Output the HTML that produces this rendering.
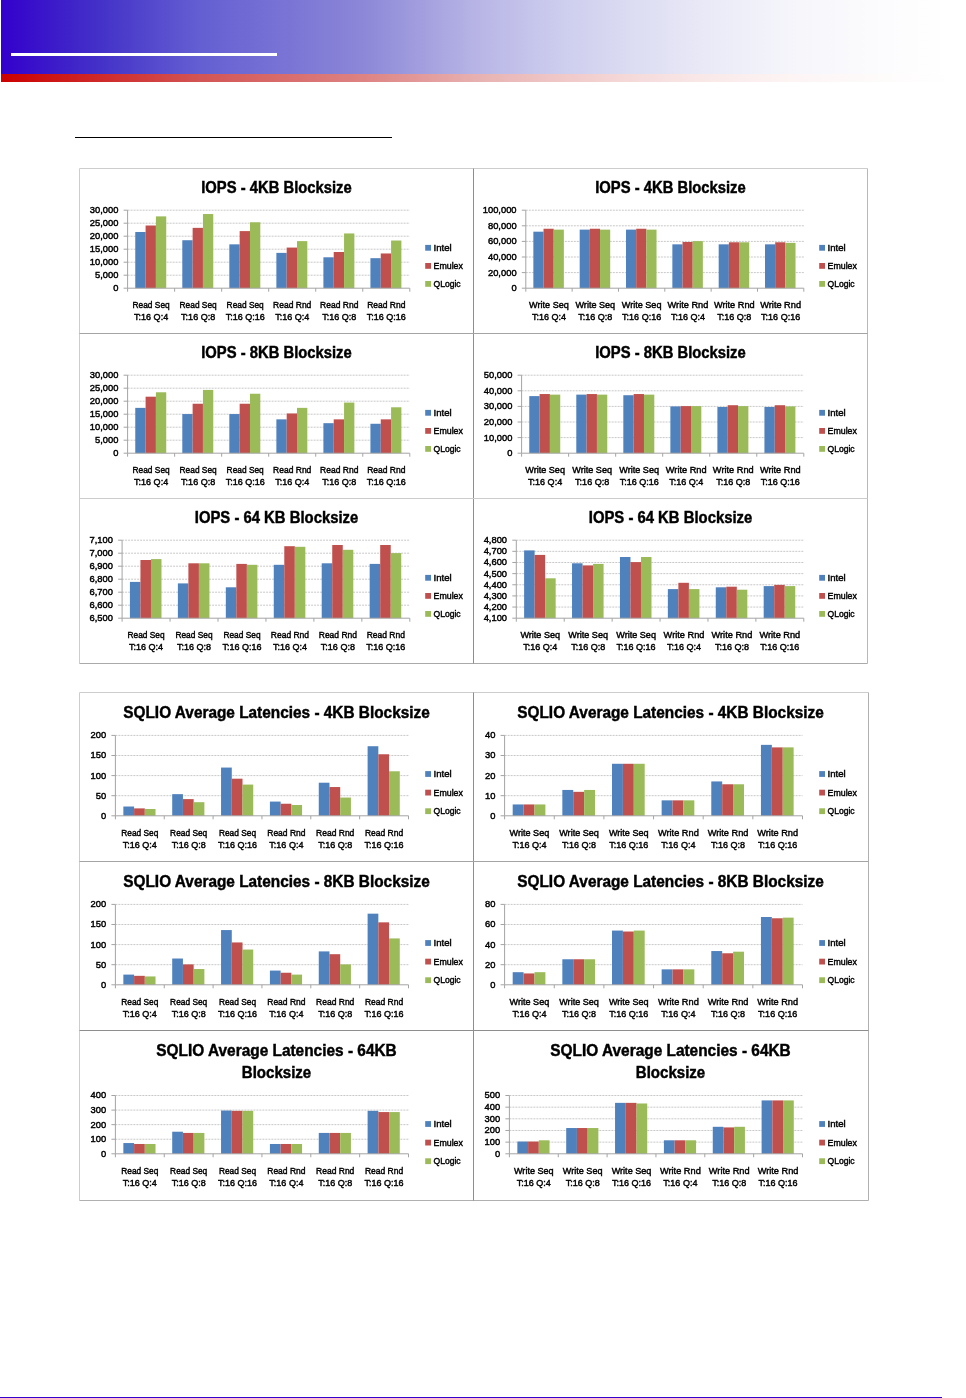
<!DOCTYPE html>
<html><head><meta charset="utf-8"><title>SQLIO results</title>
<style>
html,body{margin:0;padding:0;background:#fff;}
body{width:966px;height:1398px;position:relative;overflow:hidden;font-family:"Liberation Sans",sans-serif;}
svg{position:absolute;left:0;top:0;will-change:transform;}
svg text{font-family:"Liberation Sans",sans-serif;stroke:#000;stroke-width:0.45px;}
</style></head><body>
<svg width="966" height="1398" viewBox="0 0 966 1398">
<defs>
<linearGradient id="hb" x1="0" y1="0" x2="1" y2="0">
<stop offset="0" stop-color="rgb(51,0,204)"/>
<stop offset="0.105" stop-color="rgb(68,50,200)"/>
<stop offset="0.21" stop-color="rgb(100,95,210)"/>
<stop offset="0.38" stop-color="rgb(140,135,215)"/>
<stop offset="0.505" stop-color="rgb(185,182,230)"/>
<stop offset="0.59" stop-color="rgb(205,205,238)"/>
<stop offset="0.675" stop-color="rgb(222,222,243)"/>
<stop offset="0.76" stop-color="rgb(236,236,248)"/>
<stop offset="0.84" stop-color="rgb(246,246,251)"/>
<stop offset="0.93" stop-color="rgb(252,252,254)"/>
<stop offset="1" stop-color="#ffffff"/>
</linearGradient>
<linearGradient id="hr" x1="0" y1="0" x2="1" y2="0">
<stop offset="0" stop-color="rgb(204,0,0)"/>
<stop offset="0.105" stop-color="rgb(207,42,42)"/>
<stop offset="0.21" stop-color="rgb(211,85,85)"/>
<stop offset="0.38" stop-color="rgb(222,130,130)"/>
<stop offset="0.505" stop-color="rgb(232,178,178)"/>
<stop offset="0.59" stop-color="rgb(240,200,200)"/>
<stop offset="0.675" stop-color="rgb(246,220,220)"/>
<stop offset="0.76" stop-color="rgb(250,235,235)"/>
<stop offset="0.84" stop-color="rgb(253,245,245)"/>
<stop offset="0.93" stop-color="rgb(254,251,251)"/>
<stop offset="1" stop-color="rgb(255,255,255)"/>
</linearGradient>
</defs>
<rect x="1" y="0" width="950" height="74" fill="url(#hb)"/>
<rect x="1" y="74" width="950" height="8" fill="url(#hr)"/>
<rect x="11" y="53" width="266" height="3" fill="#fff"/>
<rect x="75" y="137" width="317" height="1" fill="#000"/>
<rect x="0" y="1397" width="942" height="1" fill="#3300cc"/>
<g stroke-width="1">
<line x1="79.5" y1="168.5" x2="867.5" y2="168.5" stroke="#cdcdcd"/>
<line x1="79.5" y1="168.5" x2="79.5" y2="663.5" stroke="#cdcdcd"/>
<line x1="867.5" y1="168.5" x2="867.5" y2="663.5" stroke="#b8b8b8"/>
<line x1="79.5" y1="663.5" x2="867.5" y2="663.5" stroke="#aaaaaa"/>
<line x1="473.5" y1="168.5" x2="473.5" y2="663.5" stroke="#8e8e8e"/>
<line x1="79.5" y1="333.5" x2="867.5" y2="333.5" stroke="#a4a4a4"/>
<line x1="79.5" y1="498.5" x2="867.5" y2="498.5" stroke="#cccccc"/>
<line x1="79.5" y1="692.5" x2="868.5" y2="692.5" stroke="#cdcdcd"/>
<line x1="79.5" y1="692.5" x2="79.5" y2="1200.5" stroke="#cdcdcd"/>
<line x1="868.5" y1="692.5" x2="868.5" y2="1200.5" stroke="#b0b0b0"/>
<line x1="79.5" y1="1200.5" x2="868.5" y2="1200.5" stroke="#b0b0b0"/>
<line x1="473.5" y1="692.5" x2="473.5" y2="1200.5" stroke="#8e8e8e"/>
<line x1="79.5" y1="861.5" x2="868.5" y2="861.5" stroke="#a4a4a4"/>
<line x1="79.5" y1="1030.5" x2="868.5" y2="1030.5" stroke="#8e8e8e"/>
</g>
<line x1="123.60" y1="288.20" x2="127.60" y2="288.20" stroke="#a4a4a4" stroke-width="1"/>
<text x="113.18" y="291.10" font-size="9.6" textLength="5.22" lengthAdjust="spacingAndGlyphs">0</text>
<line x1="127.60" y1="275.20" x2="409.80" y2="275.20" stroke="#c8c8c8" stroke-width="1" stroke-dasharray="2 1"/>
<line x1="123.60" y1="275.20" x2="127.60" y2="275.20" stroke="#a4a4a4" stroke-width="1"/>
<text x="94.95" y="278.10" font-size="9.6" textLength="23.45" lengthAdjust="spacingAndGlyphs">5,000</text>
<line x1="127.60" y1="262.20" x2="409.80" y2="262.20" stroke="#c8c8c8" stroke-width="1" stroke-dasharray="2 1"/>
<line x1="123.60" y1="262.20" x2="127.60" y2="262.20" stroke="#a4a4a4" stroke-width="1"/>
<text x="89.73" y="265.10" font-size="9.6" textLength="28.67" lengthAdjust="spacingAndGlyphs">10,000</text>
<line x1="127.60" y1="249.20" x2="409.80" y2="249.20" stroke="#c8c8c8" stroke-width="1" stroke-dasharray="2 1"/>
<line x1="123.60" y1="249.20" x2="127.60" y2="249.20" stroke="#a4a4a4" stroke-width="1"/>
<text x="89.73" y="252.10" font-size="9.6" textLength="28.67" lengthAdjust="spacingAndGlyphs">15,000</text>
<line x1="127.60" y1="236.20" x2="409.80" y2="236.20" stroke="#c8c8c8" stroke-width="1" stroke-dasharray="2 1"/>
<line x1="123.60" y1="236.20" x2="127.60" y2="236.20" stroke="#a4a4a4" stroke-width="1"/>
<text x="89.73" y="239.10" font-size="9.6" textLength="28.67" lengthAdjust="spacingAndGlyphs">20,000</text>
<line x1="127.60" y1="223.20" x2="409.80" y2="223.20" stroke="#c8c8c8" stroke-width="1" stroke-dasharray="2 1"/>
<line x1="123.60" y1="223.20" x2="127.60" y2="223.20" stroke="#a4a4a4" stroke-width="1"/>
<text x="89.73" y="226.10" font-size="9.6" textLength="28.67" lengthAdjust="spacingAndGlyphs">25,000</text>
<line x1="127.60" y1="210.20" x2="409.80" y2="210.20" stroke="#c8c8c8" stroke-width="1" stroke-dasharray="2 1"/>
<line x1="123.60" y1="210.20" x2="127.60" y2="210.20" stroke="#a4a4a4" stroke-width="1"/>
<text x="89.73" y="213.10" font-size="9.6" textLength="28.67" lengthAdjust="spacingAndGlyphs">30,000</text>
<rect x="135.27" y="231.98" width="10.32" height="56.22" fill="#4f81bd"/>
<rect x="145.59" y="225.51" width="10.32" height="62.69" fill="#c0504d"/>
<rect x="155.91" y="216.38" width="10.32" height="71.82" fill="#9bbb59"/>
<rect x="182.30" y="240.22" width="10.32" height="47.98" fill="#4f81bd"/>
<rect x="192.62" y="227.86" width="10.32" height="60.34" fill="#c0504d"/>
<rect x="202.95" y="214.03" width="10.32" height="74.17" fill="#9bbb59"/>
<rect x="229.33" y="244.34" width="10.32" height="43.86" fill="#4f81bd"/>
<rect x="239.66" y="231.10" width="10.32" height="57.10" fill="#c0504d"/>
<rect x="249.98" y="222.27" width="10.32" height="65.93" fill="#9bbb59"/>
<rect x="276.37" y="252.88" width="10.32" height="35.32" fill="#4f81bd"/>
<rect x="286.69" y="247.58" width="10.32" height="40.62" fill="#c0504d"/>
<rect x="297.01" y="241.11" width="10.32" height="47.09" fill="#9bbb59"/>
<rect x="323.40" y="257.29" width="10.32" height="30.91" fill="#4f81bd"/>
<rect x="333.72" y="252.00" width="10.32" height="36.20" fill="#c0504d"/>
<rect x="344.05" y="233.45" width="10.32" height="54.75" fill="#9bbb59"/>
<rect x="370.43" y="258.18" width="10.32" height="30.02" fill="#4f81bd"/>
<rect x="380.76" y="253.47" width="10.32" height="34.73" fill="#c0504d"/>
<rect x="391.08" y="240.52" width="10.32" height="47.68" fill="#9bbb59"/>
<line x1="127.60" y1="210.20" x2="127.60" y2="288.20" stroke="#a4a4a4" stroke-width="1"/>
<line x1="127.60" y1="288.20" x2="409.80" y2="288.20" stroke="#a4a4a4" stroke-width="1"/>
<line x1="127.60" y1="288.20" x2="127.60" y2="291.70" stroke="#a4a4a4" stroke-width="1"/>
<line x1="174.63" y1="288.20" x2="174.63" y2="291.70" stroke="#a4a4a4" stroke-width="1"/>
<line x1="221.67" y1="288.20" x2="221.67" y2="291.70" stroke="#a4a4a4" stroke-width="1"/>
<line x1="268.70" y1="288.20" x2="268.70" y2="291.70" stroke="#a4a4a4" stroke-width="1"/>
<line x1="315.73" y1="288.20" x2="315.73" y2="291.70" stroke="#a4a4a4" stroke-width="1"/>
<line x1="362.77" y1="288.20" x2="362.77" y2="291.70" stroke="#a4a4a4" stroke-width="1"/>
<line x1="409.80" y1="288.20" x2="409.80" y2="291.70" stroke="#a4a4a4" stroke-width="1"/>
<text x="132.54" y="307.70" font-size="9.6" textLength="37.15" lengthAdjust="spacingAndGlyphs">Read Seq</text>
<text x="134.07" y="319.70" font-size="9.6" textLength="34.09" lengthAdjust="spacingAndGlyphs">T:16 Q:4</text>
<text x="179.57" y="307.70" font-size="9.6" textLength="37.15" lengthAdjust="spacingAndGlyphs">Read Seq</text>
<text x="181.11" y="319.70" font-size="9.6" textLength="34.09" lengthAdjust="spacingAndGlyphs">T:16 Q:8</text>
<text x="226.61" y="307.70" font-size="9.6" textLength="37.15" lengthAdjust="spacingAndGlyphs">Read Seq</text>
<text x="225.63" y="319.70" font-size="9.6" textLength="39.11" lengthAdjust="spacingAndGlyphs">T:16 Q:16</text>
<text x="273.09" y="307.70" font-size="9.6" textLength="38.25" lengthAdjust="spacingAndGlyphs">Read Rnd</text>
<text x="275.17" y="319.70" font-size="9.6" textLength="34.09" lengthAdjust="spacingAndGlyphs">T:16 Q:4</text>
<text x="320.12" y="307.70" font-size="9.6" textLength="38.25" lengthAdjust="spacingAndGlyphs">Read Rnd</text>
<text x="322.21" y="319.70" font-size="9.6" textLength="34.09" lengthAdjust="spacingAndGlyphs">T:16 Q:8</text>
<text x="367.16" y="307.70" font-size="9.6" textLength="38.25" lengthAdjust="spacingAndGlyphs">Read Rnd</text>
<text x="366.73" y="319.70" font-size="9.6" textLength="39.11" lengthAdjust="spacingAndGlyphs">T:16 Q:16</text>
<text x="201.25" y="192.90" font-size="16.9" font-weight="bold" textLength="150.50" lengthAdjust="spacingAndGlyphs">IOPS - 4KB Blocksize</text>
<rect x="425.20" y="244.90" width="5.8" height="5.8" fill="#4f81bd"/>
<text x="433.50" y="251.00" font-size="9.6" textLength="18.21" lengthAdjust="spacingAndGlyphs">Intel</text>
<rect x="425.20" y="263.00" width="5.8" height="5.8" fill="#c0504d"/>
<text x="433.50" y="269.10" font-size="9.6" textLength="29.42" lengthAdjust="spacingAndGlyphs">Emulex</text>
<rect x="425.20" y="281.00" width="5.8" height="5.8" fill="#9bbb59"/>
<text x="433.50" y="287.10" font-size="9.6" textLength="27.16" lengthAdjust="spacingAndGlyphs">QLogic</text>
<line x1="521.80" y1="288.20" x2="525.80" y2="288.20" stroke="#a4a4a4" stroke-width="1"/>
<text x="511.38" y="291.10" font-size="9.6" textLength="5.22" lengthAdjust="spacingAndGlyphs">0</text>
<line x1="525.80" y1="272.60" x2="803.80" y2="272.60" stroke="#c8c8c8" stroke-width="1" stroke-dasharray="2 1"/>
<line x1="521.80" y1="272.60" x2="525.80" y2="272.60" stroke="#a4a4a4" stroke-width="1"/>
<text x="487.93" y="275.50" font-size="9.6" textLength="28.67" lengthAdjust="spacingAndGlyphs">20,000</text>
<line x1="525.80" y1="257.00" x2="803.80" y2="257.00" stroke="#c8c8c8" stroke-width="1" stroke-dasharray="2 1"/>
<line x1="521.80" y1="257.00" x2="525.80" y2="257.00" stroke="#a4a4a4" stroke-width="1"/>
<text x="487.93" y="259.90" font-size="9.6" textLength="28.67" lengthAdjust="spacingAndGlyphs">40,000</text>
<line x1="525.80" y1="241.40" x2="803.80" y2="241.40" stroke="#c8c8c8" stroke-width="1" stroke-dasharray="2 1"/>
<line x1="521.80" y1="241.40" x2="525.80" y2="241.40" stroke="#a4a4a4" stroke-width="1"/>
<text x="487.93" y="244.30" font-size="9.6" textLength="28.67" lengthAdjust="spacingAndGlyphs">60,000</text>
<line x1="525.80" y1="225.80" x2="803.80" y2="225.80" stroke="#c8c8c8" stroke-width="1" stroke-dasharray="2 1"/>
<line x1="521.80" y1="225.80" x2="525.80" y2="225.80" stroke="#a4a4a4" stroke-width="1"/>
<text x="487.93" y="228.70" font-size="9.6" textLength="28.67" lengthAdjust="spacingAndGlyphs">80,000</text>
<line x1="525.80" y1="210.20" x2="803.80" y2="210.20" stroke="#c8c8c8" stroke-width="1" stroke-dasharray="2 1"/>
<line x1="521.80" y1="210.20" x2="525.80" y2="210.20" stroke="#a4a4a4" stroke-width="1"/>
<text x="482.71" y="213.10" font-size="9.6" textLength="33.89" lengthAdjust="spacingAndGlyphs">100,000</text>
<rect x="533.35" y="231.69" width="10.17" height="56.51" fill="#4f81bd"/>
<rect x="543.52" y="228.74" width="10.17" height="59.46" fill="#c0504d"/>
<rect x="553.69" y="229.63" width="10.17" height="58.57" fill="#9bbb59"/>
<rect x="579.69" y="229.63" width="10.17" height="58.57" fill="#4f81bd"/>
<rect x="589.86" y="228.74" width="10.17" height="59.46" fill="#c0504d"/>
<rect x="600.03" y="229.63" width="10.17" height="58.57" fill="#9bbb59"/>
<rect x="626.02" y="229.63" width="10.17" height="58.57" fill="#4f81bd"/>
<rect x="636.19" y="228.74" width="10.17" height="59.46" fill="#c0504d"/>
<rect x="646.36" y="229.63" width="10.17" height="58.57" fill="#9bbb59"/>
<rect x="672.35" y="244.34" width="10.17" height="43.86" fill="#4f81bd"/>
<rect x="682.52" y="241.99" width="10.17" height="46.21" fill="#c0504d"/>
<rect x="692.69" y="241.11" width="10.17" height="47.09" fill="#9bbb59"/>
<rect x="718.69" y="244.34" width="10.17" height="43.86" fill="#4f81bd"/>
<rect x="728.86" y="242.28" width="10.17" height="45.92" fill="#c0504d"/>
<rect x="739.03" y="242.28" width="10.17" height="45.92" fill="#9bbb59"/>
<rect x="765.02" y="244.34" width="10.17" height="43.86" fill="#4f81bd"/>
<rect x="775.19" y="242.28" width="10.17" height="45.92" fill="#c0504d"/>
<rect x="785.36" y="242.87" width="10.17" height="45.33" fill="#9bbb59"/>
<line x1="525.80" y1="210.20" x2="525.80" y2="288.20" stroke="#a4a4a4" stroke-width="1"/>
<line x1="525.80" y1="288.20" x2="803.80" y2="288.20" stroke="#a4a4a4" stroke-width="1"/>
<line x1="525.80" y1="288.20" x2="525.80" y2="291.70" stroke="#a4a4a4" stroke-width="1"/>
<line x1="572.13" y1="288.20" x2="572.13" y2="291.70" stroke="#a4a4a4" stroke-width="1"/>
<line x1="618.47" y1="288.20" x2="618.47" y2="291.70" stroke="#a4a4a4" stroke-width="1"/>
<line x1="664.80" y1="288.20" x2="664.80" y2="291.70" stroke="#a4a4a4" stroke-width="1"/>
<line x1="711.13" y1="288.20" x2="711.13" y2="291.70" stroke="#a4a4a4" stroke-width="1"/>
<line x1="757.47" y1="288.20" x2="757.47" y2="291.70" stroke="#a4a4a4" stroke-width="1"/>
<line x1="803.80" y1="288.20" x2="803.80" y2="291.70" stroke="#a4a4a4" stroke-width="1"/>
<text x="529.12" y="307.70" font-size="9.6" textLength="39.69" lengthAdjust="spacingAndGlyphs">Write Seq</text>
<text x="531.92" y="319.70" font-size="9.6" textLength="34.09" lengthAdjust="spacingAndGlyphs">T:16 Q:4</text>
<text x="575.46" y="307.70" font-size="9.6" textLength="39.69" lengthAdjust="spacingAndGlyphs">Write Seq</text>
<text x="578.26" y="319.70" font-size="9.6" textLength="34.09" lengthAdjust="spacingAndGlyphs">T:16 Q:8</text>
<text x="621.79" y="307.70" font-size="9.6" textLength="39.69" lengthAdjust="spacingAndGlyphs">Write Seq</text>
<text x="622.08" y="319.70" font-size="9.6" textLength="39.11" lengthAdjust="spacingAndGlyphs">T:16 Q:16</text>
<text x="667.57" y="307.70" font-size="9.6" textLength="40.79" lengthAdjust="spacingAndGlyphs">Write Rnd</text>
<text x="670.92" y="319.70" font-size="9.6" textLength="34.09" lengthAdjust="spacingAndGlyphs">T:16 Q:4</text>
<text x="713.91" y="307.70" font-size="9.6" textLength="40.79" lengthAdjust="spacingAndGlyphs">Write Rnd</text>
<text x="717.26" y="319.70" font-size="9.6" textLength="34.09" lengthAdjust="spacingAndGlyphs">T:16 Q:8</text>
<text x="760.24" y="307.70" font-size="9.6" textLength="40.79" lengthAdjust="spacingAndGlyphs">Write Rnd</text>
<text x="761.08" y="319.70" font-size="9.6" textLength="39.11" lengthAdjust="spacingAndGlyphs">T:16 Q:16</text>
<text x="595.25" y="192.90" font-size="16.9" font-weight="bold" textLength="150.50" lengthAdjust="spacingAndGlyphs">IOPS - 4KB Blocksize</text>
<rect x="819.20" y="244.90" width="5.8" height="5.8" fill="#4f81bd"/>
<text x="827.50" y="251.00" font-size="9.6" textLength="18.21" lengthAdjust="spacingAndGlyphs">Intel</text>
<rect x="819.20" y="263.00" width="5.8" height="5.8" fill="#c0504d"/>
<text x="827.50" y="269.10" font-size="9.6" textLength="29.42" lengthAdjust="spacingAndGlyphs">Emulex</text>
<rect x="819.20" y="281.00" width="5.8" height="5.8" fill="#9bbb59"/>
<text x="827.50" y="287.10" font-size="9.6" textLength="27.16" lengthAdjust="spacingAndGlyphs">QLogic</text>
<line x1="123.60" y1="453.20" x2="127.60" y2="453.20" stroke="#a4a4a4" stroke-width="1"/>
<text x="113.18" y="456.10" font-size="9.6" textLength="5.22" lengthAdjust="spacingAndGlyphs">0</text>
<line x1="127.60" y1="440.20" x2="409.80" y2="440.20" stroke="#c8c8c8" stroke-width="1" stroke-dasharray="2 1"/>
<line x1="123.60" y1="440.20" x2="127.60" y2="440.20" stroke="#a4a4a4" stroke-width="1"/>
<text x="94.95" y="443.10" font-size="9.6" textLength="23.45" lengthAdjust="spacingAndGlyphs">5,000</text>
<line x1="127.60" y1="427.20" x2="409.80" y2="427.20" stroke="#c8c8c8" stroke-width="1" stroke-dasharray="2 1"/>
<line x1="123.60" y1="427.20" x2="127.60" y2="427.20" stroke="#a4a4a4" stroke-width="1"/>
<text x="89.73" y="430.10" font-size="9.6" textLength="28.67" lengthAdjust="spacingAndGlyphs">10,000</text>
<line x1="127.60" y1="414.20" x2="409.80" y2="414.20" stroke="#c8c8c8" stroke-width="1" stroke-dasharray="2 1"/>
<line x1="123.60" y1="414.20" x2="127.60" y2="414.20" stroke="#a4a4a4" stroke-width="1"/>
<text x="89.73" y="417.10" font-size="9.6" textLength="28.67" lengthAdjust="spacingAndGlyphs">15,000</text>
<line x1="127.60" y1="401.20" x2="409.80" y2="401.20" stroke="#c8c8c8" stroke-width="1" stroke-dasharray="2 1"/>
<line x1="123.60" y1="401.20" x2="127.60" y2="401.20" stroke="#a4a4a4" stroke-width="1"/>
<text x="89.73" y="404.10" font-size="9.6" textLength="28.67" lengthAdjust="spacingAndGlyphs">20,000</text>
<line x1="127.60" y1="388.20" x2="409.80" y2="388.20" stroke="#c8c8c8" stroke-width="1" stroke-dasharray="2 1"/>
<line x1="123.60" y1="388.20" x2="127.60" y2="388.20" stroke="#a4a4a4" stroke-width="1"/>
<text x="89.73" y="391.10" font-size="9.6" textLength="28.67" lengthAdjust="spacingAndGlyphs">25,000</text>
<line x1="127.60" y1="375.20" x2="409.80" y2="375.20" stroke="#c8c8c8" stroke-width="1" stroke-dasharray="2 1"/>
<line x1="123.60" y1="375.20" x2="127.60" y2="375.20" stroke="#a4a4a4" stroke-width="1"/>
<text x="89.73" y="378.10" font-size="9.6" textLength="28.67" lengthAdjust="spacingAndGlyphs">30,000</text>
<rect x="135.27" y="407.87" width="10.32" height="45.33" fill="#4f81bd"/>
<rect x="145.59" y="396.69" width="10.32" height="56.51" fill="#c0504d"/>
<rect x="155.91" y="392.27" width="10.32" height="60.93" fill="#9bbb59"/>
<rect x="182.30" y="414.05" width="10.32" height="39.15" fill="#4f81bd"/>
<rect x="192.62" y="403.75" width="10.32" height="49.45" fill="#c0504d"/>
<rect x="202.95" y="389.92" width="10.32" height="63.28" fill="#9bbb59"/>
<rect x="229.33" y="414.05" width="10.32" height="39.15" fill="#4f81bd"/>
<rect x="239.66" y="403.75" width="10.32" height="49.45" fill="#c0504d"/>
<rect x="249.98" y="393.74" width="10.32" height="59.46" fill="#9bbb59"/>
<rect x="276.37" y="419.35" width="10.32" height="33.85" fill="#4f81bd"/>
<rect x="286.69" y="413.46" width="10.32" height="39.74" fill="#c0504d"/>
<rect x="297.01" y="407.87" width="10.32" height="45.33" fill="#9bbb59"/>
<rect x="323.40" y="423.18" width="10.32" height="30.02" fill="#4f81bd"/>
<rect x="333.72" y="419.35" width="10.32" height="33.85" fill="#c0504d"/>
<rect x="344.05" y="402.57" width="10.32" height="50.63" fill="#9bbb59"/>
<rect x="370.43" y="423.77" width="10.32" height="29.43" fill="#4f81bd"/>
<rect x="380.76" y="419.35" width="10.32" height="33.85" fill="#c0504d"/>
<rect x="391.08" y="407.28" width="10.32" height="45.92" fill="#9bbb59"/>
<line x1="127.60" y1="375.20" x2="127.60" y2="453.20" stroke="#a4a4a4" stroke-width="1"/>
<line x1="127.60" y1="453.20" x2="409.80" y2="453.20" stroke="#a4a4a4" stroke-width="1"/>
<line x1="127.60" y1="453.20" x2="127.60" y2="456.70" stroke="#a4a4a4" stroke-width="1"/>
<line x1="174.63" y1="453.20" x2="174.63" y2="456.70" stroke="#a4a4a4" stroke-width="1"/>
<line x1="221.67" y1="453.20" x2="221.67" y2="456.70" stroke="#a4a4a4" stroke-width="1"/>
<line x1="268.70" y1="453.20" x2="268.70" y2="456.70" stroke="#a4a4a4" stroke-width="1"/>
<line x1="315.73" y1="453.20" x2="315.73" y2="456.70" stroke="#a4a4a4" stroke-width="1"/>
<line x1="362.77" y1="453.20" x2="362.77" y2="456.70" stroke="#a4a4a4" stroke-width="1"/>
<line x1="409.80" y1="453.20" x2="409.80" y2="456.70" stroke="#a4a4a4" stroke-width="1"/>
<text x="132.54" y="472.70" font-size="9.6" textLength="37.15" lengthAdjust="spacingAndGlyphs">Read Seq</text>
<text x="134.07" y="484.70" font-size="9.6" textLength="34.09" lengthAdjust="spacingAndGlyphs">T:16 Q:4</text>
<text x="179.57" y="472.70" font-size="9.6" textLength="37.15" lengthAdjust="spacingAndGlyphs">Read Seq</text>
<text x="181.11" y="484.70" font-size="9.6" textLength="34.09" lengthAdjust="spacingAndGlyphs">T:16 Q:8</text>
<text x="226.61" y="472.70" font-size="9.6" textLength="37.15" lengthAdjust="spacingAndGlyphs">Read Seq</text>
<text x="225.63" y="484.70" font-size="9.6" textLength="39.11" lengthAdjust="spacingAndGlyphs">T:16 Q:16</text>
<text x="273.09" y="472.70" font-size="9.6" textLength="38.25" lengthAdjust="spacingAndGlyphs">Read Rnd</text>
<text x="275.17" y="484.70" font-size="9.6" textLength="34.09" lengthAdjust="spacingAndGlyphs">T:16 Q:4</text>
<text x="320.12" y="472.70" font-size="9.6" textLength="38.25" lengthAdjust="spacingAndGlyphs">Read Rnd</text>
<text x="322.21" y="484.70" font-size="9.6" textLength="34.09" lengthAdjust="spacingAndGlyphs">T:16 Q:8</text>
<text x="367.16" y="472.70" font-size="9.6" textLength="38.25" lengthAdjust="spacingAndGlyphs">Read Rnd</text>
<text x="366.73" y="484.70" font-size="9.6" textLength="39.11" lengthAdjust="spacingAndGlyphs">T:16 Q:16</text>
<text x="201.25" y="357.90" font-size="16.9" font-weight="bold" textLength="150.50" lengthAdjust="spacingAndGlyphs">IOPS - 8KB Blocksize</text>
<rect x="425.20" y="409.90" width="5.8" height="5.8" fill="#4f81bd"/>
<text x="433.50" y="416.00" font-size="9.6" textLength="18.21" lengthAdjust="spacingAndGlyphs">Intel</text>
<rect x="425.20" y="428.00" width="5.8" height="5.8" fill="#c0504d"/>
<text x="433.50" y="434.10" font-size="9.6" textLength="29.42" lengthAdjust="spacingAndGlyphs">Emulex</text>
<rect x="425.20" y="446.00" width="5.8" height="5.8" fill="#9bbb59"/>
<text x="433.50" y="452.10" font-size="9.6" textLength="27.16" lengthAdjust="spacingAndGlyphs">QLogic</text>
<line x1="517.60" y1="453.20" x2="521.60" y2="453.20" stroke="#a4a4a4" stroke-width="1"/>
<text x="507.18" y="456.10" font-size="9.6" textLength="5.22" lengthAdjust="spacingAndGlyphs">0</text>
<line x1="521.60" y1="437.60" x2="803.80" y2="437.60" stroke="#c8c8c8" stroke-width="1" stroke-dasharray="2 1"/>
<line x1="517.60" y1="437.60" x2="521.60" y2="437.60" stroke="#a4a4a4" stroke-width="1"/>
<text x="483.73" y="440.50" font-size="9.6" textLength="28.67" lengthAdjust="spacingAndGlyphs">10,000</text>
<line x1="521.60" y1="422.00" x2="803.80" y2="422.00" stroke="#c8c8c8" stroke-width="1" stroke-dasharray="2 1"/>
<line x1="517.60" y1="422.00" x2="521.60" y2="422.00" stroke="#a4a4a4" stroke-width="1"/>
<text x="483.73" y="424.90" font-size="9.6" textLength="28.67" lengthAdjust="spacingAndGlyphs">20,000</text>
<line x1="521.60" y1="406.40" x2="803.80" y2="406.40" stroke="#c8c8c8" stroke-width="1" stroke-dasharray="2 1"/>
<line x1="517.60" y1="406.40" x2="521.60" y2="406.40" stroke="#a4a4a4" stroke-width="1"/>
<text x="483.73" y="409.30" font-size="9.6" textLength="28.67" lengthAdjust="spacingAndGlyphs">30,000</text>
<line x1="521.60" y1="390.80" x2="803.80" y2="390.80" stroke="#c8c8c8" stroke-width="1" stroke-dasharray="2 1"/>
<line x1="517.60" y1="390.80" x2="521.60" y2="390.80" stroke="#a4a4a4" stroke-width="1"/>
<text x="483.73" y="393.70" font-size="9.6" textLength="28.67" lengthAdjust="spacingAndGlyphs">40,000</text>
<line x1="521.60" y1="375.20" x2="803.80" y2="375.20" stroke="#c8c8c8" stroke-width="1" stroke-dasharray="2 1"/>
<line x1="517.60" y1="375.20" x2="521.60" y2="375.20" stroke="#a4a4a4" stroke-width="1"/>
<text x="483.73" y="378.10" font-size="9.6" textLength="28.67" lengthAdjust="spacingAndGlyphs">50,000</text>
<rect x="529.27" y="396.10" width="10.32" height="57.10" fill="#4f81bd"/>
<rect x="539.59" y="394.04" width="10.32" height="59.16" fill="#c0504d"/>
<rect x="549.91" y="394.63" width="10.32" height="58.57" fill="#9bbb59"/>
<rect x="576.30" y="394.63" width="10.32" height="58.57" fill="#4f81bd"/>
<rect x="586.62" y="394.04" width="10.32" height="59.16" fill="#c0504d"/>
<rect x="596.95" y="394.63" width="10.32" height="58.57" fill="#9bbb59"/>
<rect x="623.33" y="395.22" width="10.32" height="57.98" fill="#4f81bd"/>
<rect x="633.66" y="394.04" width="10.32" height="59.16" fill="#c0504d"/>
<rect x="643.98" y="394.63" width="10.32" height="58.57" fill="#9bbb59"/>
<rect x="670.37" y="406.40" width="10.32" height="46.80" fill="#4f81bd"/>
<rect x="680.69" y="406.11" width="10.32" height="47.09" fill="#c0504d"/>
<rect x="691.01" y="406.11" width="10.32" height="47.09" fill="#9bbb59"/>
<rect x="717.40" y="406.99" width="10.32" height="46.21" fill="#4f81bd"/>
<rect x="727.72" y="405.22" width="10.32" height="47.98" fill="#c0504d"/>
<rect x="738.05" y="406.11" width="10.32" height="47.09" fill="#9bbb59"/>
<rect x="764.43" y="406.99" width="10.32" height="46.21" fill="#4f81bd"/>
<rect x="774.76" y="405.22" width="10.32" height="47.98" fill="#c0504d"/>
<rect x="785.08" y="406.40" width="10.32" height="46.80" fill="#9bbb59"/>
<line x1="521.60" y1="375.20" x2="521.60" y2="453.20" stroke="#a4a4a4" stroke-width="1"/>
<line x1="521.60" y1="453.20" x2="803.80" y2="453.20" stroke="#a4a4a4" stroke-width="1"/>
<line x1="521.60" y1="453.20" x2="521.60" y2="456.70" stroke="#a4a4a4" stroke-width="1"/>
<line x1="568.63" y1="453.20" x2="568.63" y2="456.70" stroke="#a4a4a4" stroke-width="1"/>
<line x1="615.67" y1="453.20" x2="615.67" y2="456.70" stroke="#a4a4a4" stroke-width="1"/>
<line x1="662.70" y1="453.20" x2="662.70" y2="456.70" stroke="#a4a4a4" stroke-width="1"/>
<line x1="709.73" y1="453.20" x2="709.73" y2="456.70" stroke="#a4a4a4" stroke-width="1"/>
<line x1="756.77" y1="453.20" x2="756.77" y2="456.70" stroke="#a4a4a4" stroke-width="1"/>
<line x1="803.80" y1="453.20" x2="803.80" y2="456.70" stroke="#a4a4a4" stroke-width="1"/>
<text x="525.27" y="472.70" font-size="9.6" textLength="39.69" lengthAdjust="spacingAndGlyphs">Write Seq</text>
<text x="528.07" y="484.70" font-size="9.6" textLength="34.09" lengthAdjust="spacingAndGlyphs">T:16 Q:4</text>
<text x="572.31" y="472.70" font-size="9.6" textLength="39.69" lengthAdjust="spacingAndGlyphs">Write Seq</text>
<text x="575.11" y="484.70" font-size="9.6" textLength="34.09" lengthAdjust="spacingAndGlyphs">T:16 Q:8</text>
<text x="619.34" y="472.70" font-size="9.6" textLength="39.69" lengthAdjust="spacingAndGlyphs">Write Seq</text>
<text x="619.63" y="484.70" font-size="9.6" textLength="39.11" lengthAdjust="spacingAndGlyphs">T:16 Q:16</text>
<text x="665.82" y="472.70" font-size="9.6" textLength="40.79" lengthAdjust="spacingAndGlyphs">Write Rnd</text>
<text x="669.17" y="484.70" font-size="9.6" textLength="34.09" lengthAdjust="spacingAndGlyphs">T:16 Q:4</text>
<text x="712.86" y="472.70" font-size="9.6" textLength="40.79" lengthAdjust="spacingAndGlyphs">Write Rnd</text>
<text x="716.21" y="484.70" font-size="9.6" textLength="34.09" lengthAdjust="spacingAndGlyphs">T:16 Q:8</text>
<text x="759.89" y="472.70" font-size="9.6" textLength="40.79" lengthAdjust="spacingAndGlyphs">Write Rnd</text>
<text x="760.73" y="484.70" font-size="9.6" textLength="39.11" lengthAdjust="spacingAndGlyphs">T:16 Q:16</text>
<text x="595.25" y="357.90" font-size="16.9" font-weight="bold" textLength="150.50" lengthAdjust="spacingAndGlyphs">IOPS - 8KB Blocksize</text>
<rect x="819.20" y="409.90" width="5.8" height="5.8" fill="#4f81bd"/>
<text x="827.50" y="416.00" font-size="9.6" textLength="18.21" lengthAdjust="spacingAndGlyphs">Intel</text>
<rect x="819.20" y="428.00" width="5.8" height="5.8" fill="#c0504d"/>
<text x="827.50" y="434.10" font-size="9.6" textLength="29.42" lengthAdjust="spacingAndGlyphs">Emulex</text>
<rect x="819.20" y="446.00" width="5.8" height="5.8" fill="#9bbb59"/>
<text x="827.50" y="452.10" font-size="9.6" textLength="27.16" lengthAdjust="spacingAndGlyphs">QLogic</text>
<line x1="118.10" y1="618.20" x2="122.10" y2="618.20" stroke="#a4a4a4" stroke-width="1"/>
<text x="89.45" y="621.10" font-size="9.6" textLength="23.45" lengthAdjust="spacingAndGlyphs">6,500</text>
<line x1="122.10" y1="605.20" x2="409.80" y2="605.20" stroke="#c8c8c8" stroke-width="1" stroke-dasharray="2 1"/>
<line x1="118.10" y1="605.20" x2="122.10" y2="605.20" stroke="#a4a4a4" stroke-width="1"/>
<text x="89.45" y="608.10" font-size="9.6" textLength="23.45" lengthAdjust="spacingAndGlyphs">6,600</text>
<line x1="122.10" y1="592.20" x2="409.80" y2="592.20" stroke="#c8c8c8" stroke-width="1" stroke-dasharray="2 1"/>
<line x1="118.10" y1="592.20" x2="122.10" y2="592.20" stroke="#a4a4a4" stroke-width="1"/>
<text x="89.45" y="595.10" font-size="9.6" textLength="23.45" lengthAdjust="spacingAndGlyphs">6,700</text>
<line x1="122.10" y1="579.20" x2="409.80" y2="579.20" stroke="#c8c8c8" stroke-width="1" stroke-dasharray="2 1"/>
<line x1="118.10" y1="579.20" x2="122.10" y2="579.20" stroke="#a4a4a4" stroke-width="1"/>
<text x="89.45" y="582.10" font-size="9.6" textLength="23.45" lengthAdjust="spacingAndGlyphs">6,800</text>
<line x1="122.10" y1="566.20" x2="409.80" y2="566.20" stroke="#c8c8c8" stroke-width="1" stroke-dasharray="2 1"/>
<line x1="118.10" y1="566.20" x2="122.10" y2="566.20" stroke="#a4a4a4" stroke-width="1"/>
<text x="89.45" y="569.10" font-size="9.6" textLength="23.45" lengthAdjust="spacingAndGlyphs">6,900</text>
<line x1="122.10" y1="553.20" x2="409.80" y2="553.20" stroke="#c8c8c8" stroke-width="1" stroke-dasharray="2 1"/>
<line x1="118.10" y1="553.20" x2="122.10" y2="553.20" stroke="#a4a4a4" stroke-width="1"/>
<text x="89.45" y="556.10" font-size="9.6" textLength="23.45" lengthAdjust="spacingAndGlyphs">7,000</text>
<line x1="122.10" y1="540.20" x2="409.80" y2="540.20" stroke="#c8c8c8" stroke-width="1" stroke-dasharray="2 1"/>
<line x1="118.10" y1="540.20" x2="122.10" y2="540.20" stroke="#a4a4a4" stroke-width="1"/>
<text x="89.45" y="543.10" font-size="9.6" textLength="23.45" lengthAdjust="spacingAndGlyphs">7,100</text>
<rect x="129.92" y="581.90" width="10.53" height="36.30" fill="#4f81bd"/>
<rect x="140.44" y="560.00" width="10.53" height="58.20" fill="#c0504d"/>
<rect x="150.97" y="559.10" width="10.53" height="59.10" fill="#9bbb59"/>
<rect x="177.87" y="583.40" width="10.53" height="34.80" fill="#4f81bd"/>
<rect x="188.39" y="563.30" width="10.53" height="54.90" fill="#c0504d"/>
<rect x="198.92" y="563.30" width="10.53" height="54.90" fill="#9bbb59"/>
<rect x="225.82" y="587.30" width="10.53" height="30.90" fill="#4f81bd"/>
<rect x="236.34" y="563.90" width="10.53" height="54.30" fill="#c0504d"/>
<rect x="246.87" y="564.80" width="10.53" height="53.40" fill="#9bbb59"/>
<rect x="273.77" y="564.80" width="10.53" height="53.40" fill="#4f81bd"/>
<rect x="284.29" y="546.20" width="10.53" height="72.00" fill="#c0504d"/>
<rect x="294.82" y="546.80" width="10.53" height="71.40" fill="#9bbb59"/>
<rect x="321.72" y="563.30" width="10.53" height="54.90" fill="#4f81bd"/>
<rect x="332.24" y="545.00" width="10.53" height="73.20" fill="#c0504d"/>
<rect x="342.77" y="549.80" width="10.53" height="68.40" fill="#9bbb59"/>
<rect x="369.67" y="563.90" width="10.53" height="54.30" fill="#4f81bd"/>
<rect x="380.19" y="545.00" width="10.53" height="73.20" fill="#c0504d"/>
<rect x="390.72" y="553.10" width="10.53" height="65.10" fill="#9bbb59"/>
<line x1="122.10" y1="540.20" x2="122.10" y2="618.20" stroke="#a4a4a4" stroke-width="1"/>
<line x1="122.10" y1="618.20" x2="409.80" y2="618.20" stroke="#a4a4a4" stroke-width="1"/>
<line x1="122.10" y1="618.20" x2="122.10" y2="621.70" stroke="#a4a4a4" stroke-width="1"/>
<line x1="170.05" y1="618.20" x2="170.05" y2="621.70" stroke="#a4a4a4" stroke-width="1"/>
<line x1="218.00" y1="618.20" x2="218.00" y2="621.70" stroke="#a4a4a4" stroke-width="1"/>
<line x1="265.95" y1="618.20" x2="265.95" y2="621.70" stroke="#a4a4a4" stroke-width="1"/>
<line x1="313.90" y1="618.20" x2="313.90" y2="621.70" stroke="#a4a4a4" stroke-width="1"/>
<line x1="361.85" y1="618.20" x2="361.85" y2="621.70" stroke="#a4a4a4" stroke-width="1"/>
<line x1="409.80" y1="618.20" x2="409.80" y2="621.70" stroke="#a4a4a4" stroke-width="1"/>
<text x="127.50" y="637.70" font-size="9.6" textLength="37.15" lengthAdjust="spacingAndGlyphs">Read Seq</text>
<text x="129.03" y="649.70" font-size="9.6" textLength="34.09" lengthAdjust="spacingAndGlyphs">T:16 Q:4</text>
<text x="175.45" y="637.70" font-size="9.6" textLength="37.15" lengthAdjust="spacingAndGlyphs">Read Seq</text>
<text x="176.98" y="649.70" font-size="9.6" textLength="34.09" lengthAdjust="spacingAndGlyphs">T:16 Q:8</text>
<text x="223.40" y="637.70" font-size="9.6" textLength="37.15" lengthAdjust="spacingAndGlyphs">Read Seq</text>
<text x="222.42" y="649.70" font-size="9.6" textLength="39.11" lengthAdjust="spacingAndGlyphs">T:16 Q:16</text>
<text x="270.80" y="637.70" font-size="9.6" textLength="38.25" lengthAdjust="spacingAndGlyphs">Read Rnd</text>
<text x="272.88" y="649.70" font-size="9.6" textLength="34.09" lengthAdjust="spacingAndGlyphs">T:16 Q:4</text>
<text x="318.75" y="637.70" font-size="9.6" textLength="38.25" lengthAdjust="spacingAndGlyphs">Read Rnd</text>
<text x="320.83" y="649.70" font-size="9.6" textLength="34.09" lengthAdjust="spacingAndGlyphs">T:16 Q:8</text>
<text x="366.70" y="637.70" font-size="9.6" textLength="38.25" lengthAdjust="spacingAndGlyphs">Read Rnd</text>
<text x="366.27" y="649.70" font-size="9.6" textLength="39.11" lengthAdjust="spacingAndGlyphs">T:16 Q:16</text>
<text x="194.75" y="522.90" font-size="16.9" font-weight="bold" textLength="163.50" lengthAdjust="spacingAndGlyphs">IOPS - 64 KB Blocksize</text>
<rect x="425.20" y="574.90" width="5.8" height="5.8" fill="#4f81bd"/>
<text x="433.50" y="581.00" font-size="9.6" textLength="18.21" lengthAdjust="spacingAndGlyphs">Intel</text>
<rect x="425.20" y="593.00" width="5.8" height="5.8" fill="#c0504d"/>
<text x="433.50" y="599.10" font-size="9.6" textLength="29.42" lengthAdjust="spacingAndGlyphs">Emulex</text>
<rect x="425.20" y="611.00" width="5.8" height="5.8" fill="#9bbb59"/>
<text x="433.50" y="617.10" font-size="9.6" textLength="27.16" lengthAdjust="spacingAndGlyphs">QLogic</text>
<line x1="512.30" y1="618.20" x2="516.30" y2="618.20" stroke="#a4a4a4" stroke-width="1"/>
<text x="483.65" y="621.10" font-size="9.6" textLength="23.45" lengthAdjust="spacingAndGlyphs">4,100</text>
<line x1="516.30" y1="607.06" x2="803.80" y2="607.06" stroke="#c8c8c8" stroke-width="1" stroke-dasharray="2 1"/>
<line x1="512.30" y1="607.06" x2="516.30" y2="607.06" stroke="#a4a4a4" stroke-width="1"/>
<text x="483.65" y="609.96" font-size="9.6" textLength="23.45" lengthAdjust="spacingAndGlyphs">4,200</text>
<line x1="516.30" y1="595.91" x2="803.80" y2="595.91" stroke="#c8c8c8" stroke-width="1" stroke-dasharray="2 1"/>
<line x1="512.30" y1="595.91" x2="516.30" y2="595.91" stroke="#a4a4a4" stroke-width="1"/>
<text x="483.65" y="598.81" font-size="9.6" textLength="23.45" lengthAdjust="spacingAndGlyphs">4,300</text>
<line x1="516.30" y1="584.77" x2="803.80" y2="584.77" stroke="#c8c8c8" stroke-width="1" stroke-dasharray="2 1"/>
<line x1="512.30" y1="584.77" x2="516.30" y2="584.77" stroke="#a4a4a4" stroke-width="1"/>
<text x="483.65" y="587.67" font-size="9.6" textLength="23.45" lengthAdjust="spacingAndGlyphs">4,400</text>
<line x1="516.30" y1="573.63" x2="803.80" y2="573.63" stroke="#c8c8c8" stroke-width="1" stroke-dasharray="2 1"/>
<line x1="512.30" y1="573.63" x2="516.30" y2="573.63" stroke="#a4a4a4" stroke-width="1"/>
<text x="483.65" y="576.53" font-size="9.6" textLength="23.45" lengthAdjust="spacingAndGlyphs">4,500</text>
<line x1="516.30" y1="562.49" x2="803.80" y2="562.49" stroke="#c8c8c8" stroke-width="1" stroke-dasharray="2 1"/>
<line x1="512.30" y1="562.49" x2="516.30" y2="562.49" stroke="#a4a4a4" stroke-width="1"/>
<text x="483.65" y="565.39" font-size="9.6" textLength="23.45" lengthAdjust="spacingAndGlyphs">4,600</text>
<line x1="516.30" y1="551.34" x2="803.80" y2="551.34" stroke="#c8c8c8" stroke-width="1" stroke-dasharray="2 1"/>
<line x1="512.30" y1="551.34" x2="516.30" y2="551.34" stroke="#a4a4a4" stroke-width="1"/>
<text x="483.65" y="554.24" font-size="9.6" textLength="23.45" lengthAdjust="spacingAndGlyphs">4,700</text>
<line x1="516.30" y1="540.20" x2="803.80" y2="540.20" stroke="#c8c8c8" stroke-width="1" stroke-dasharray="2 1"/>
<line x1="512.30" y1="540.20" x2="516.30" y2="540.20" stroke="#a4a4a4" stroke-width="1"/>
<text x="483.65" y="543.10" font-size="9.6" textLength="23.45" lengthAdjust="spacingAndGlyphs">4,800</text>
<rect x="524.11" y="550.40" width="10.52" height="67.80" fill="#4f81bd"/>
<rect x="534.63" y="554.90" width="10.52" height="63.30" fill="#c0504d"/>
<rect x="545.15" y="578.30" width="10.52" height="39.90" fill="#9bbb59"/>
<rect x="572.03" y="563.30" width="10.52" height="54.90" fill="#4f81bd"/>
<rect x="582.54" y="565.40" width="10.52" height="52.80" fill="#c0504d"/>
<rect x="593.06" y="563.90" width="10.52" height="54.30" fill="#9bbb59"/>
<rect x="619.94" y="557.00" width="10.52" height="61.20" fill="#4f81bd"/>
<rect x="630.46" y="562.10" width="10.52" height="56.10" fill="#c0504d"/>
<rect x="640.98" y="557.00" width="10.52" height="61.20" fill="#9bbb59"/>
<rect x="667.86" y="589.10" width="10.52" height="29.10" fill="#4f81bd"/>
<rect x="678.38" y="582.80" width="10.52" height="35.40" fill="#c0504d"/>
<rect x="688.90" y="589.10" width="10.52" height="29.10" fill="#9bbb59"/>
<rect x="715.78" y="587.30" width="10.52" height="30.90" fill="#4f81bd"/>
<rect x="726.29" y="586.70" width="10.52" height="31.50" fill="#c0504d"/>
<rect x="736.81" y="589.70" width="10.52" height="28.50" fill="#9bbb59"/>
<rect x="763.69" y="586.10" width="10.52" height="32.10" fill="#4f81bd"/>
<rect x="774.21" y="584.90" width="10.52" height="33.30" fill="#c0504d"/>
<rect x="784.73" y="586.10" width="10.52" height="32.10" fill="#9bbb59"/>
<line x1="516.30" y1="540.20" x2="516.30" y2="618.20" stroke="#a4a4a4" stroke-width="1"/>
<line x1="516.30" y1="618.20" x2="803.80" y2="618.20" stroke="#a4a4a4" stroke-width="1"/>
<line x1="516.30" y1="618.20" x2="516.30" y2="621.70" stroke="#a4a4a4" stroke-width="1"/>
<line x1="564.22" y1="618.20" x2="564.22" y2="621.70" stroke="#a4a4a4" stroke-width="1"/>
<line x1="612.13" y1="618.20" x2="612.13" y2="621.70" stroke="#a4a4a4" stroke-width="1"/>
<line x1="660.05" y1="618.20" x2="660.05" y2="621.70" stroke="#a4a4a4" stroke-width="1"/>
<line x1="707.97" y1="618.20" x2="707.97" y2="621.70" stroke="#a4a4a4" stroke-width="1"/>
<line x1="755.88" y1="618.20" x2="755.88" y2="621.70" stroke="#a4a4a4" stroke-width="1"/>
<line x1="803.80" y1="618.20" x2="803.80" y2="621.70" stroke="#a4a4a4" stroke-width="1"/>
<text x="520.41" y="637.70" font-size="9.6" textLength="39.69" lengthAdjust="spacingAndGlyphs">Write Seq</text>
<text x="523.22" y="649.70" font-size="9.6" textLength="34.09" lengthAdjust="spacingAndGlyphs">T:16 Q:4</text>
<text x="568.33" y="637.70" font-size="9.6" textLength="39.69" lengthAdjust="spacingAndGlyphs">Write Seq</text>
<text x="571.13" y="649.70" font-size="9.6" textLength="34.09" lengthAdjust="spacingAndGlyphs">T:16 Q:8</text>
<text x="616.25" y="637.70" font-size="9.6" textLength="39.69" lengthAdjust="spacingAndGlyphs">Write Seq</text>
<text x="616.54" y="649.70" font-size="9.6" textLength="39.11" lengthAdjust="spacingAndGlyphs">T:16 Q:16</text>
<text x="663.61" y="637.70" font-size="9.6" textLength="40.79" lengthAdjust="spacingAndGlyphs">Write Rnd</text>
<text x="666.97" y="649.70" font-size="9.6" textLength="34.09" lengthAdjust="spacingAndGlyphs">T:16 Q:4</text>
<text x="711.53" y="637.70" font-size="9.6" textLength="40.79" lengthAdjust="spacingAndGlyphs">Write Rnd</text>
<text x="714.88" y="649.70" font-size="9.6" textLength="34.09" lengthAdjust="spacingAndGlyphs">T:16 Q:8</text>
<text x="759.45" y="637.70" font-size="9.6" textLength="40.79" lengthAdjust="spacingAndGlyphs">Write Rnd</text>
<text x="760.29" y="649.70" font-size="9.6" textLength="39.11" lengthAdjust="spacingAndGlyphs">T:16 Q:16</text>
<text x="588.75" y="522.90" font-size="16.9" font-weight="bold" textLength="163.50" lengthAdjust="spacingAndGlyphs">IOPS - 64 KB Blocksize</text>
<rect x="819.20" y="574.90" width="5.8" height="5.8" fill="#4f81bd"/>
<text x="827.50" y="581.00" font-size="9.6" textLength="18.21" lengthAdjust="spacingAndGlyphs">Intel</text>
<rect x="819.20" y="593.00" width="5.8" height="5.8" fill="#c0504d"/>
<text x="827.50" y="599.10" font-size="9.6" textLength="29.42" lengthAdjust="spacingAndGlyphs">Emulex</text>
<rect x="819.20" y="611.00" width="5.8" height="5.8" fill="#9bbb59"/>
<text x="827.50" y="617.10" font-size="9.6" textLength="27.16" lengthAdjust="spacingAndGlyphs">QLogic</text>
<line x1="111.40" y1="815.80" x2="115.40" y2="815.80" stroke="#a4a4a4" stroke-width="1"/>
<text x="100.98" y="818.70" font-size="9.6" textLength="5.22" lengthAdjust="spacingAndGlyphs">0</text>
<line x1="115.40" y1="795.70" x2="408.50" y2="795.70" stroke="#c8c8c8" stroke-width="1" stroke-dasharray="2 1"/>
<line x1="111.40" y1="795.70" x2="115.40" y2="795.70" stroke="#a4a4a4" stroke-width="1"/>
<text x="95.76" y="798.60" font-size="9.6" textLength="10.44" lengthAdjust="spacingAndGlyphs">50</text>
<line x1="115.40" y1="775.60" x2="408.50" y2="775.60" stroke="#c8c8c8" stroke-width="1" stroke-dasharray="2 1"/>
<line x1="111.40" y1="775.60" x2="115.40" y2="775.60" stroke="#a4a4a4" stroke-width="1"/>
<text x="90.54" y="778.50" font-size="9.6" textLength="15.66" lengthAdjust="spacingAndGlyphs">100</text>
<line x1="115.40" y1="755.50" x2="408.50" y2="755.50" stroke="#c8c8c8" stroke-width="1" stroke-dasharray="2 1"/>
<line x1="111.40" y1="755.50" x2="115.40" y2="755.50" stroke="#a4a4a4" stroke-width="1"/>
<text x="90.54" y="758.40" font-size="9.6" textLength="15.66" lengthAdjust="spacingAndGlyphs">150</text>
<line x1="115.40" y1="735.40" x2="408.50" y2="735.40" stroke="#c8c8c8" stroke-width="1" stroke-dasharray="2 1"/>
<line x1="111.40" y1="735.40" x2="115.40" y2="735.40" stroke="#a4a4a4" stroke-width="1"/>
<text x="90.54" y="738.30" font-size="9.6" textLength="15.66" lengthAdjust="spacingAndGlyphs">200</text>
<rect x="123.36" y="806.52" width="10.72" height="9.28" fill="#4f81bd"/>
<rect x="134.09" y="808.38" width="10.72" height="7.42" fill="#c0504d"/>
<rect x="144.81" y="809.00" width="10.72" height="6.80" fill="#9bbb59"/>
<rect x="172.21" y="794.15" width="10.72" height="21.65" fill="#4f81bd"/>
<rect x="182.94" y="799.10" width="10.72" height="16.70" fill="#c0504d"/>
<rect x="193.66" y="802.19" width="10.72" height="13.61" fill="#9bbb59"/>
<rect x="221.06" y="767.56" width="10.72" height="48.24" fill="#4f81bd"/>
<rect x="231.79" y="778.69" width="10.72" height="37.11" fill="#c0504d"/>
<rect x="242.51" y="784.57" width="10.72" height="31.23" fill="#9bbb59"/>
<rect x="269.91" y="801.58" width="10.72" height="14.22" fill="#4f81bd"/>
<rect x="280.64" y="803.74" width="10.72" height="12.06" fill="#c0504d"/>
<rect x="291.36" y="804.98" width="10.72" height="10.82" fill="#9bbb59"/>
<rect x="318.76" y="782.71" width="10.72" height="33.09" fill="#4f81bd"/>
<rect x="329.49" y="787.04" width="10.72" height="28.76" fill="#c0504d"/>
<rect x="340.21" y="797.56" width="10.72" height="18.24" fill="#9bbb59"/>
<rect x="367.61" y="746.22" width="10.72" height="69.58" fill="#4f81bd"/>
<rect x="378.34" y="754.26" width="10.72" height="61.54" fill="#c0504d"/>
<rect x="389.06" y="771.27" width="10.72" height="44.53" fill="#9bbb59"/>
<line x1="115.40" y1="735.40" x2="115.40" y2="815.80" stroke="#a4a4a4" stroke-width="1"/>
<line x1="115.40" y1="815.80" x2="408.50" y2="815.80" stroke="#a4a4a4" stroke-width="1"/>
<line x1="115.40" y1="815.80" x2="115.40" y2="819.30" stroke="#a4a4a4" stroke-width="1"/>
<line x1="164.25" y1="815.80" x2="164.25" y2="819.30" stroke="#a4a4a4" stroke-width="1"/>
<line x1="213.10" y1="815.80" x2="213.10" y2="819.30" stroke="#a4a4a4" stroke-width="1"/>
<line x1="261.95" y1="815.80" x2="261.95" y2="819.30" stroke="#a4a4a4" stroke-width="1"/>
<line x1="310.80" y1="815.80" x2="310.80" y2="819.30" stroke="#a4a4a4" stroke-width="1"/>
<line x1="359.65" y1="815.80" x2="359.65" y2="819.30" stroke="#a4a4a4" stroke-width="1"/>
<line x1="408.50" y1="815.80" x2="408.50" y2="819.30" stroke="#a4a4a4" stroke-width="1"/>
<text x="121.25" y="836.00" font-size="9.6" textLength="37.15" lengthAdjust="spacingAndGlyphs">Read Seq</text>
<text x="122.78" y="848.00" font-size="9.6" textLength="34.09" lengthAdjust="spacingAndGlyphs">T:16 Q:4</text>
<text x="170.10" y="836.00" font-size="9.6" textLength="37.15" lengthAdjust="spacingAndGlyphs">Read Seq</text>
<text x="171.63" y="848.00" font-size="9.6" textLength="34.09" lengthAdjust="spacingAndGlyphs">T:16 Q:8</text>
<text x="218.95" y="836.00" font-size="9.6" textLength="37.15" lengthAdjust="spacingAndGlyphs">Read Seq</text>
<text x="217.97" y="848.00" font-size="9.6" textLength="39.11" lengthAdjust="spacingAndGlyphs">T:16 Q:16</text>
<text x="267.25" y="836.00" font-size="9.6" textLength="38.25" lengthAdjust="spacingAndGlyphs">Read Rnd</text>
<text x="269.33" y="848.00" font-size="9.6" textLength="34.09" lengthAdjust="spacingAndGlyphs">T:16 Q:4</text>
<text x="316.10" y="836.00" font-size="9.6" textLength="38.25" lengthAdjust="spacingAndGlyphs">Read Rnd</text>
<text x="318.18" y="848.00" font-size="9.6" textLength="34.09" lengthAdjust="spacingAndGlyphs">T:16 Q:8</text>
<text x="364.95" y="836.00" font-size="9.6" textLength="38.25" lengthAdjust="spacingAndGlyphs">Read Rnd</text>
<text x="364.52" y="848.00" font-size="9.6" textLength="39.11" lengthAdjust="spacingAndGlyphs">T:16 Q:16</text>
<text x="123.25" y="717.50" font-size="16.9" font-weight="bold" textLength="306.50" lengthAdjust="spacingAndGlyphs">SQLIO Average Latencies - 4KB Blocksize</text>
<rect x="425.20" y="771.10" width="5.8" height="5.8" fill="#4f81bd"/>
<text x="433.50" y="777.20" font-size="9.6" textLength="18.21" lengthAdjust="spacingAndGlyphs">Intel</text>
<rect x="425.20" y="789.70" width="5.8" height="5.8" fill="#c0504d"/>
<text x="433.50" y="795.80" font-size="9.6" textLength="29.42" lengthAdjust="spacingAndGlyphs">Emulex</text>
<rect x="425.20" y="808.30" width="5.8" height="5.8" fill="#9bbb59"/>
<text x="433.50" y="814.40" font-size="9.6" textLength="27.16" lengthAdjust="spacingAndGlyphs">QLogic</text>
<line x1="500.60" y1="815.80" x2="504.60" y2="815.80" stroke="#a4a4a4" stroke-width="1"/>
<text x="490.18" y="818.70" font-size="9.6" textLength="5.22" lengthAdjust="spacingAndGlyphs">0</text>
<line x1="504.60" y1="795.70" x2="802.50" y2="795.70" stroke="#c8c8c8" stroke-width="1" stroke-dasharray="2 1"/>
<line x1="500.60" y1="795.70" x2="504.60" y2="795.70" stroke="#a4a4a4" stroke-width="1"/>
<text x="484.96" y="798.60" font-size="9.6" textLength="10.44" lengthAdjust="spacingAndGlyphs">10</text>
<line x1="504.60" y1="775.60" x2="802.50" y2="775.60" stroke="#c8c8c8" stroke-width="1" stroke-dasharray="2 1"/>
<line x1="500.60" y1="775.60" x2="504.60" y2="775.60" stroke="#a4a4a4" stroke-width="1"/>
<text x="484.96" y="778.50" font-size="9.6" textLength="10.44" lengthAdjust="spacingAndGlyphs">20</text>
<line x1="504.60" y1="755.50" x2="802.50" y2="755.50" stroke="#c8c8c8" stroke-width="1" stroke-dasharray="2 1"/>
<line x1="500.60" y1="755.50" x2="504.60" y2="755.50" stroke="#a4a4a4" stroke-width="1"/>
<text x="484.96" y="758.40" font-size="9.6" textLength="10.44" lengthAdjust="spacingAndGlyphs">30</text>
<line x1="504.60" y1="735.40" x2="802.50" y2="735.40" stroke="#c8c8c8" stroke-width="1" stroke-dasharray="2 1"/>
<line x1="500.60" y1="735.40" x2="504.60" y2="735.40" stroke="#a4a4a4" stroke-width="1"/>
<text x="484.96" y="738.30" font-size="9.6" textLength="10.44" lengthAdjust="spacingAndGlyphs">40</text>
<rect x="512.69" y="804.45" width="10.90" height="11.35" fill="#4f81bd"/>
<rect x="523.59" y="804.45" width="10.90" height="11.35" fill="#c0504d"/>
<rect x="534.49" y="804.45" width="10.90" height="11.35" fill="#9bbb59"/>
<rect x="562.34" y="789.95" width="10.90" height="25.85" fill="#4f81bd"/>
<rect x="573.24" y="791.84" width="10.90" height="23.96" fill="#c0504d"/>
<rect x="584.14" y="789.95" width="10.90" height="25.85" fill="#9bbb59"/>
<rect x="611.99" y="763.78" width="10.90" height="52.02" fill="#4f81bd"/>
<rect x="622.89" y="763.78" width="10.90" height="52.02" fill="#c0504d"/>
<rect x="633.79" y="763.78" width="10.90" height="52.02" fill="#9bbb59"/>
<rect x="661.64" y="800.35" width="10.90" height="15.45" fill="#4f81bd"/>
<rect x="672.54" y="800.35" width="10.90" height="15.45" fill="#c0504d"/>
<rect x="683.44" y="800.35" width="10.90" height="15.45" fill="#9bbb59"/>
<rect x="711.29" y="781.43" width="10.90" height="34.37" fill="#4f81bd"/>
<rect x="722.19" y="784.27" width="10.90" height="31.53" fill="#c0504d"/>
<rect x="733.09" y="784.27" width="10.90" height="31.53" fill="#9bbb59"/>
<rect x="760.94" y="744.86" width="10.90" height="70.94" fill="#4f81bd"/>
<rect x="771.84" y="747.38" width="10.90" height="68.42" fill="#c0504d"/>
<rect x="782.74" y="747.38" width="10.90" height="68.42" fill="#9bbb59"/>
<line x1="504.60" y1="735.40" x2="504.60" y2="815.80" stroke="#a4a4a4" stroke-width="1"/>
<line x1="504.60" y1="815.80" x2="802.50" y2="815.80" stroke="#a4a4a4" stroke-width="1"/>
<line x1="504.60" y1="815.80" x2="504.60" y2="819.30" stroke="#a4a4a4" stroke-width="1"/>
<line x1="554.25" y1="815.80" x2="554.25" y2="819.30" stroke="#a4a4a4" stroke-width="1"/>
<line x1="603.90" y1="815.80" x2="603.90" y2="819.30" stroke="#a4a4a4" stroke-width="1"/>
<line x1="653.55" y1="815.80" x2="653.55" y2="819.30" stroke="#a4a4a4" stroke-width="1"/>
<line x1="703.20" y1="815.80" x2="703.20" y2="819.30" stroke="#a4a4a4" stroke-width="1"/>
<line x1="752.85" y1="815.80" x2="752.85" y2="819.30" stroke="#a4a4a4" stroke-width="1"/>
<line x1="802.50" y1="815.80" x2="802.50" y2="819.30" stroke="#a4a4a4" stroke-width="1"/>
<text x="509.58" y="836.00" font-size="9.6" textLength="39.69" lengthAdjust="spacingAndGlyphs">Write Seq</text>
<text x="512.38" y="848.00" font-size="9.6" textLength="34.09" lengthAdjust="spacingAndGlyphs">T:16 Q:4</text>
<text x="559.23" y="836.00" font-size="9.6" textLength="39.69" lengthAdjust="spacingAndGlyphs">Write Seq</text>
<text x="562.03" y="848.00" font-size="9.6" textLength="34.09" lengthAdjust="spacingAndGlyphs">T:16 Q:8</text>
<text x="608.88" y="836.00" font-size="9.6" textLength="39.69" lengthAdjust="spacingAndGlyphs">Write Seq</text>
<text x="609.17" y="848.00" font-size="9.6" textLength="39.11" lengthAdjust="spacingAndGlyphs">T:16 Q:16</text>
<text x="657.98" y="836.00" font-size="9.6" textLength="40.79" lengthAdjust="spacingAndGlyphs">Write Rnd</text>
<text x="661.33" y="848.00" font-size="9.6" textLength="34.09" lengthAdjust="spacingAndGlyphs">T:16 Q:4</text>
<text x="707.63" y="836.00" font-size="9.6" textLength="40.79" lengthAdjust="spacingAndGlyphs">Write Rnd</text>
<text x="710.98" y="848.00" font-size="9.6" textLength="34.09" lengthAdjust="spacingAndGlyphs">T:16 Q:8</text>
<text x="757.28" y="836.00" font-size="9.6" textLength="40.79" lengthAdjust="spacingAndGlyphs">Write Rnd</text>
<text x="758.12" y="848.00" font-size="9.6" textLength="39.11" lengthAdjust="spacingAndGlyphs">T:16 Q:16</text>
<text x="517.25" y="717.50" font-size="16.9" font-weight="bold" textLength="306.50" lengthAdjust="spacingAndGlyphs">SQLIO Average Latencies - 4KB Blocksize</text>
<rect x="819.20" y="771.10" width="5.8" height="5.8" fill="#4f81bd"/>
<text x="827.50" y="777.20" font-size="9.6" textLength="18.21" lengthAdjust="spacingAndGlyphs">Intel</text>
<rect x="819.20" y="789.70" width="5.8" height="5.8" fill="#c0504d"/>
<text x="827.50" y="795.80" font-size="9.6" textLength="29.42" lengthAdjust="spacingAndGlyphs">Emulex</text>
<rect x="819.20" y="808.30" width="5.8" height="5.8" fill="#9bbb59"/>
<text x="827.50" y="814.40" font-size="9.6" textLength="27.16" lengthAdjust="spacingAndGlyphs">QLogic</text>
<line x1="111.40" y1="984.80" x2="115.40" y2="984.80" stroke="#a4a4a4" stroke-width="1"/>
<text x="100.98" y="987.70" font-size="9.6" textLength="5.22" lengthAdjust="spacingAndGlyphs">0</text>
<line x1="115.40" y1="964.70" x2="408.50" y2="964.70" stroke="#c8c8c8" stroke-width="1" stroke-dasharray="2 1"/>
<line x1="111.40" y1="964.70" x2="115.40" y2="964.70" stroke="#a4a4a4" stroke-width="1"/>
<text x="95.76" y="967.60" font-size="9.6" textLength="10.44" lengthAdjust="spacingAndGlyphs">50</text>
<line x1="115.40" y1="944.60" x2="408.50" y2="944.60" stroke="#c8c8c8" stroke-width="1" stroke-dasharray="2 1"/>
<line x1="111.40" y1="944.60" x2="115.40" y2="944.60" stroke="#a4a4a4" stroke-width="1"/>
<text x="90.54" y="947.50" font-size="9.6" textLength="15.66" lengthAdjust="spacingAndGlyphs">100</text>
<line x1="115.40" y1="924.50" x2="408.50" y2="924.50" stroke="#c8c8c8" stroke-width="1" stroke-dasharray="2 1"/>
<line x1="111.40" y1="924.50" x2="115.40" y2="924.50" stroke="#a4a4a4" stroke-width="1"/>
<text x="90.54" y="927.40" font-size="9.6" textLength="15.66" lengthAdjust="spacingAndGlyphs">150</text>
<line x1="115.40" y1="904.40" x2="408.50" y2="904.40" stroke="#c8c8c8" stroke-width="1" stroke-dasharray="2 1"/>
<line x1="111.40" y1="904.40" x2="115.40" y2="904.40" stroke="#a4a4a4" stroke-width="1"/>
<text x="90.54" y="907.30" font-size="9.6" textLength="15.66" lengthAdjust="spacingAndGlyphs">200</text>
<rect x="123.36" y="974.60" width="10.72" height="10.20" fill="#4f81bd"/>
<rect x="134.09" y="975.83" width="10.72" height="8.97" fill="#c0504d"/>
<rect x="144.81" y="976.45" width="10.72" height="8.35" fill="#9bbb59"/>
<rect x="172.21" y="958.52" width="10.72" height="26.28" fill="#4f81bd"/>
<rect x="182.94" y="964.39" width="10.72" height="20.41" fill="#c0504d"/>
<rect x="193.66" y="969.03" width="10.72" height="15.77" fill="#9bbb59"/>
<rect x="221.06" y="930.07" width="10.72" height="54.73" fill="#4f81bd"/>
<rect x="231.79" y="942.44" width="10.72" height="42.36" fill="#c0504d"/>
<rect x="242.51" y="949.55" width="10.72" height="35.25" fill="#9bbb59"/>
<rect x="269.91" y="970.58" width="10.72" height="14.22" fill="#4f81bd"/>
<rect x="280.64" y="972.74" width="10.72" height="12.06" fill="#c0504d"/>
<rect x="291.36" y="974.60" width="10.72" height="10.20" fill="#9bbb59"/>
<rect x="318.76" y="951.40" width="10.72" height="33.40" fill="#4f81bd"/>
<rect x="329.49" y="954.19" width="10.72" height="30.61" fill="#c0504d"/>
<rect x="340.21" y="964.39" width="10.72" height="20.41" fill="#9bbb59"/>
<rect x="367.61" y="913.68" width="10.72" height="71.12" fill="#4f81bd"/>
<rect x="378.34" y="922.34" width="10.72" height="62.46" fill="#c0504d"/>
<rect x="389.06" y="938.42" width="10.72" height="46.38" fill="#9bbb59"/>
<line x1="115.40" y1="904.40" x2="115.40" y2="984.80" stroke="#a4a4a4" stroke-width="1"/>
<line x1="115.40" y1="984.80" x2="408.50" y2="984.80" stroke="#a4a4a4" stroke-width="1"/>
<line x1="115.40" y1="984.80" x2="115.40" y2="988.30" stroke="#a4a4a4" stroke-width="1"/>
<line x1="164.25" y1="984.80" x2="164.25" y2="988.30" stroke="#a4a4a4" stroke-width="1"/>
<line x1="213.10" y1="984.80" x2="213.10" y2="988.30" stroke="#a4a4a4" stroke-width="1"/>
<line x1="261.95" y1="984.80" x2="261.95" y2="988.30" stroke="#a4a4a4" stroke-width="1"/>
<line x1="310.80" y1="984.80" x2="310.80" y2="988.30" stroke="#a4a4a4" stroke-width="1"/>
<line x1="359.65" y1="984.80" x2="359.65" y2="988.30" stroke="#a4a4a4" stroke-width="1"/>
<line x1="408.50" y1="984.80" x2="408.50" y2="988.30" stroke="#a4a4a4" stroke-width="1"/>
<text x="121.25" y="1005.00" font-size="9.6" textLength="37.15" lengthAdjust="spacingAndGlyphs">Read Seq</text>
<text x="122.78" y="1017.00" font-size="9.6" textLength="34.09" lengthAdjust="spacingAndGlyphs">T:16 Q:4</text>
<text x="170.10" y="1005.00" font-size="9.6" textLength="37.15" lengthAdjust="spacingAndGlyphs">Read Seq</text>
<text x="171.63" y="1017.00" font-size="9.6" textLength="34.09" lengthAdjust="spacingAndGlyphs">T:16 Q:8</text>
<text x="218.95" y="1005.00" font-size="9.6" textLength="37.15" lengthAdjust="spacingAndGlyphs">Read Seq</text>
<text x="217.97" y="1017.00" font-size="9.6" textLength="39.11" lengthAdjust="spacingAndGlyphs">T:16 Q:16</text>
<text x="267.25" y="1005.00" font-size="9.6" textLength="38.25" lengthAdjust="spacingAndGlyphs">Read Rnd</text>
<text x="269.33" y="1017.00" font-size="9.6" textLength="34.09" lengthAdjust="spacingAndGlyphs">T:16 Q:4</text>
<text x="316.10" y="1005.00" font-size="9.6" textLength="38.25" lengthAdjust="spacingAndGlyphs">Read Rnd</text>
<text x="318.18" y="1017.00" font-size="9.6" textLength="34.09" lengthAdjust="spacingAndGlyphs">T:16 Q:8</text>
<text x="364.95" y="1005.00" font-size="9.6" textLength="38.25" lengthAdjust="spacingAndGlyphs">Read Rnd</text>
<text x="364.52" y="1017.00" font-size="9.6" textLength="39.11" lengthAdjust="spacingAndGlyphs">T:16 Q:16</text>
<text x="123.25" y="886.50" font-size="16.9" font-weight="bold" textLength="306.50" lengthAdjust="spacingAndGlyphs">SQLIO Average Latencies - 8KB Blocksize</text>
<rect x="425.20" y="940.10" width="5.8" height="5.8" fill="#4f81bd"/>
<text x="433.50" y="946.20" font-size="9.6" textLength="18.21" lengthAdjust="spacingAndGlyphs">Intel</text>
<rect x="425.20" y="958.70" width="5.8" height="5.8" fill="#c0504d"/>
<text x="433.50" y="964.80" font-size="9.6" textLength="29.42" lengthAdjust="spacingAndGlyphs">Emulex</text>
<rect x="425.20" y="977.30" width="5.8" height="5.8" fill="#9bbb59"/>
<text x="433.50" y="983.40" font-size="9.6" textLength="27.16" lengthAdjust="spacingAndGlyphs">QLogic</text>
<line x1="500.60" y1="984.80" x2="504.60" y2="984.80" stroke="#a4a4a4" stroke-width="1"/>
<text x="490.18" y="987.70" font-size="9.6" textLength="5.22" lengthAdjust="spacingAndGlyphs">0</text>
<line x1="504.60" y1="964.70" x2="802.50" y2="964.70" stroke="#c8c8c8" stroke-width="1" stroke-dasharray="2 1"/>
<line x1="500.60" y1="964.70" x2="504.60" y2="964.70" stroke="#a4a4a4" stroke-width="1"/>
<text x="484.96" y="967.60" font-size="9.6" textLength="10.44" lengthAdjust="spacingAndGlyphs">20</text>
<line x1="504.60" y1="944.60" x2="802.50" y2="944.60" stroke="#c8c8c8" stroke-width="1" stroke-dasharray="2 1"/>
<line x1="500.60" y1="944.60" x2="504.60" y2="944.60" stroke="#a4a4a4" stroke-width="1"/>
<text x="484.96" y="947.50" font-size="9.6" textLength="10.44" lengthAdjust="spacingAndGlyphs">40</text>
<line x1="504.60" y1="924.50" x2="802.50" y2="924.50" stroke="#c8c8c8" stroke-width="1" stroke-dasharray="2 1"/>
<line x1="500.60" y1="924.50" x2="504.60" y2="924.50" stroke="#a4a4a4" stroke-width="1"/>
<text x="484.96" y="927.40" font-size="9.6" textLength="10.44" lengthAdjust="spacingAndGlyphs">60</text>
<line x1="504.60" y1="904.40" x2="802.50" y2="904.40" stroke="#c8c8c8" stroke-width="1" stroke-dasharray="2 1"/>
<line x1="500.60" y1="904.40" x2="504.60" y2="904.40" stroke="#a4a4a4" stroke-width="1"/>
<text x="484.96" y="907.30" font-size="9.6" textLength="10.44" lengthAdjust="spacingAndGlyphs">80</text>
<rect x="512.69" y="972.19" width="10.90" height="12.61" fill="#4f81bd"/>
<rect x="523.59" y="973.45" width="10.90" height="11.35" fill="#c0504d"/>
<rect x="534.49" y="972.19" width="10.90" height="12.61" fill="#9bbb59"/>
<rect x="562.34" y="959.26" width="10.90" height="25.54" fill="#4f81bd"/>
<rect x="573.24" y="959.26" width="10.90" height="25.54" fill="#c0504d"/>
<rect x="584.14" y="959.26" width="10.90" height="25.54" fill="#9bbb59"/>
<rect x="611.99" y="930.57" width="10.90" height="54.23" fill="#4f81bd"/>
<rect x="622.89" y="931.52" width="10.90" height="53.28" fill="#c0504d"/>
<rect x="633.79" y="930.57" width="10.90" height="54.23" fill="#9bbb59"/>
<rect x="661.64" y="969.35" width="10.90" height="15.45" fill="#4f81bd"/>
<rect x="672.54" y="969.35" width="10.90" height="15.45" fill="#c0504d"/>
<rect x="683.44" y="969.35" width="10.90" height="15.45" fill="#9bbb59"/>
<rect x="711.29" y="951.06" width="10.90" height="33.74" fill="#4f81bd"/>
<rect x="722.19" y="953.27" width="10.90" height="31.53" fill="#c0504d"/>
<rect x="733.09" y="951.69" width="10.90" height="33.11" fill="#9bbb59"/>
<rect x="760.94" y="917.01" width="10.90" height="67.79" fill="#4f81bd"/>
<rect x="771.84" y="918.27" width="10.90" height="66.53" fill="#c0504d"/>
<rect x="782.74" y="917.64" width="10.90" height="67.16" fill="#9bbb59"/>
<line x1="504.60" y1="904.40" x2="504.60" y2="984.80" stroke="#a4a4a4" stroke-width="1"/>
<line x1="504.60" y1="984.80" x2="802.50" y2="984.80" stroke="#a4a4a4" stroke-width="1"/>
<line x1="504.60" y1="984.80" x2="504.60" y2="988.30" stroke="#a4a4a4" stroke-width="1"/>
<line x1="554.25" y1="984.80" x2="554.25" y2="988.30" stroke="#a4a4a4" stroke-width="1"/>
<line x1="603.90" y1="984.80" x2="603.90" y2="988.30" stroke="#a4a4a4" stroke-width="1"/>
<line x1="653.55" y1="984.80" x2="653.55" y2="988.30" stroke="#a4a4a4" stroke-width="1"/>
<line x1="703.20" y1="984.80" x2="703.20" y2="988.30" stroke="#a4a4a4" stroke-width="1"/>
<line x1="752.85" y1="984.80" x2="752.85" y2="988.30" stroke="#a4a4a4" stroke-width="1"/>
<line x1="802.50" y1="984.80" x2="802.50" y2="988.30" stroke="#a4a4a4" stroke-width="1"/>
<text x="509.58" y="1005.00" font-size="9.6" textLength="39.69" lengthAdjust="spacingAndGlyphs">Write Seq</text>
<text x="512.38" y="1017.00" font-size="9.6" textLength="34.09" lengthAdjust="spacingAndGlyphs">T:16 Q:4</text>
<text x="559.23" y="1005.00" font-size="9.6" textLength="39.69" lengthAdjust="spacingAndGlyphs">Write Seq</text>
<text x="562.03" y="1017.00" font-size="9.6" textLength="34.09" lengthAdjust="spacingAndGlyphs">T:16 Q:8</text>
<text x="608.88" y="1005.00" font-size="9.6" textLength="39.69" lengthAdjust="spacingAndGlyphs">Write Seq</text>
<text x="609.17" y="1017.00" font-size="9.6" textLength="39.11" lengthAdjust="spacingAndGlyphs">T:16 Q:16</text>
<text x="657.98" y="1005.00" font-size="9.6" textLength="40.79" lengthAdjust="spacingAndGlyphs">Write Rnd</text>
<text x="661.33" y="1017.00" font-size="9.6" textLength="34.09" lengthAdjust="spacingAndGlyphs">T:16 Q:4</text>
<text x="707.63" y="1005.00" font-size="9.6" textLength="40.79" lengthAdjust="spacingAndGlyphs">Write Rnd</text>
<text x="710.98" y="1017.00" font-size="9.6" textLength="34.09" lengthAdjust="spacingAndGlyphs">T:16 Q:8</text>
<text x="757.28" y="1005.00" font-size="9.6" textLength="40.79" lengthAdjust="spacingAndGlyphs">Write Rnd</text>
<text x="758.12" y="1017.00" font-size="9.6" textLength="39.11" lengthAdjust="spacingAndGlyphs">T:16 Q:16</text>
<text x="517.25" y="886.50" font-size="16.9" font-weight="bold" textLength="306.50" lengthAdjust="spacingAndGlyphs">SQLIO Average Latencies - 8KB Blocksize</text>
<rect x="819.20" y="940.10" width="5.8" height="5.8" fill="#4f81bd"/>
<text x="827.50" y="946.20" font-size="9.6" textLength="18.21" lengthAdjust="spacingAndGlyphs">Intel</text>
<rect x="819.20" y="958.70" width="5.8" height="5.8" fill="#c0504d"/>
<text x="827.50" y="964.80" font-size="9.6" textLength="29.42" lengthAdjust="spacingAndGlyphs">Emulex</text>
<rect x="819.20" y="977.30" width="5.8" height="5.8" fill="#9bbb59"/>
<text x="827.50" y="983.40" font-size="9.6" textLength="27.16" lengthAdjust="spacingAndGlyphs">QLogic</text>
<line x1="111.40" y1="1153.80" x2="115.40" y2="1153.80" stroke="#a4a4a4" stroke-width="1"/>
<text x="100.98" y="1156.70" font-size="9.6" textLength="5.22" lengthAdjust="spacingAndGlyphs">0</text>
<line x1="115.40" y1="1139.22" x2="408.50" y2="1139.22" stroke="#c8c8c8" stroke-width="1" stroke-dasharray="2 1"/>
<line x1="111.40" y1="1139.22" x2="115.40" y2="1139.22" stroke="#a4a4a4" stroke-width="1"/>
<text x="90.54" y="1142.12" font-size="9.6" textLength="15.66" lengthAdjust="spacingAndGlyphs">100</text>
<line x1="115.40" y1="1124.65" x2="408.50" y2="1124.65" stroke="#c8c8c8" stroke-width="1" stroke-dasharray="2 1"/>
<line x1="111.40" y1="1124.65" x2="115.40" y2="1124.65" stroke="#a4a4a4" stroke-width="1"/>
<text x="90.54" y="1127.55" font-size="9.6" textLength="15.66" lengthAdjust="spacingAndGlyphs">200</text>
<line x1="115.40" y1="1110.08" x2="408.50" y2="1110.08" stroke="#c8c8c8" stroke-width="1" stroke-dasharray="2 1"/>
<line x1="111.40" y1="1110.08" x2="115.40" y2="1110.08" stroke="#a4a4a4" stroke-width="1"/>
<text x="90.54" y="1112.98" font-size="9.6" textLength="15.66" lengthAdjust="spacingAndGlyphs">300</text>
<line x1="115.40" y1="1095.50" x2="408.50" y2="1095.50" stroke="#c8c8c8" stroke-width="1" stroke-dasharray="2 1"/>
<line x1="111.40" y1="1095.50" x2="115.40" y2="1095.50" stroke="#a4a4a4" stroke-width="1"/>
<text x="90.54" y="1098.40" font-size="9.6" textLength="15.66" lengthAdjust="spacingAndGlyphs">400</text>
<rect x="123.36" y="1143.06" width="10.72" height="10.74" fill="#4f81bd"/>
<rect x="134.09" y="1143.98" width="10.72" height="9.82" fill="#c0504d"/>
<rect x="144.81" y="1143.98" width="10.72" height="9.82" fill="#9bbb59"/>
<rect x="172.21" y="1131.71" width="10.72" height="22.09" fill="#4f81bd"/>
<rect x="182.94" y="1132.93" width="10.72" height="20.87" fill="#c0504d"/>
<rect x="193.66" y="1132.93" width="10.72" height="20.87" fill="#9bbb59"/>
<rect x="221.06" y="1110.54" width="10.72" height="43.26" fill="#4f81bd"/>
<rect x="231.79" y="1110.84" width="10.72" height="42.96" fill="#c0504d"/>
<rect x="242.51" y="1110.84" width="10.72" height="42.96" fill="#9bbb59"/>
<rect x="269.91" y="1143.98" width="10.72" height="9.82" fill="#4f81bd"/>
<rect x="280.64" y="1143.98" width="10.72" height="9.82" fill="#c0504d"/>
<rect x="291.36" y="1143.98" width="10.72" height="9.82" fill="#9bbb59"/>
<rect x="318.76" y="1132.93" width="10.72" height="20.87" fill="#4f81bd"/>
<rect x="329.49" y="1132.93" width="10.72" height="20.87" fill="#c0504d"/>
<rect x="340.21" y="1132.93" width="10.72" height="20.87" fill="#9bbb59"/>
<rect x="367.61" y="1110.84" width="10.72" height="42.96" fill="#4f81bd"/>
<rect x="378.34" y="1112.07" width="10.72" height="41.73" fill="#c0504d"/>
<rect x="389.06" y="1112.07" width="10.72" height="41.73" fill="#9bbb59"/>
<line x1="115.40" y1="1095.50" x2="115.40" y2="1153.80" stroke="#a4a4a4" stroke-width="1"/>
<line x1="115.40" y1="1153.80" x2="408.50" y2="1153.80" stroke="#a4a4a4" stroke-width="1"/>
<line x1="115.40" y1="1153.80" x2="115.40" y2="1157.30" stroke="#a4a4a4" stroke-width="1"/>
<line x1="164.25" y1="1153.80" x2="164.25" y2="1157.30" stroke="#a4a4a4" stroke-width="1"/>
<line x1="213.10" y1="1153.80" x2="213.10" y2="1157.30" stroke="#a4a4a4" stroke-width="1"/>
<line x1="261.95" y1="1153.80" x2="261.95" y2="1157.30" stroke="#a4a4a4" stroke-width="1"/>
<line x1="310.80" y1="1153.80" x2="310.80" y2="1157.30" stroke="#a4a4a4" stroke-width="1"/>
<line x1="359.65" y1="1153.80" x2="359.65" y2="1157.30" stroke="#a4a4a4" stroke-width="1"/>
<line x1="408.50" y1="1153.80" x2="408.50" y2="1157.30" stroke="#a4a4a4" stroke-width="1"/>
<text x="121.25" y="1174.00" font-size="9.6" textLength="37.15" lengthAdjust="spacingAndGlyphs">Read Seq</text>
<text x="122.78" y="1186.00" font-size="9.6" textLength="34.09" lengthAdjust="spacingAndGlyphs">T:16 Q:4</text>
<text x="170.10" y="1174.00" font-size="9.6" textLength="37.15" lengthAdjust="spacingAndGlyphs">Read Seq</text>
<text x="171.63" y="1186.00" font-size="9.6" textLength="34.09" lengthAdjust="spacingAndGlyphs">T:16 Q:8</text>
<text x="218.95" y="1174.00" font-size="9.6" textLength="37.15" lengthAdjust="spacingAndGlyphs">Read Seq</text>
<text x="217.97" y="1186.00" font-size="9.6" textLength="39.11" lengthAdjust="spacingAndGlyphs">T:16 Q:16</text>
<text x="267.25" y="1174.00" font-size="9.6" textLength="38.25" lengthAdjust="spacingAndGlyphs">Read Rnd</text>
<text x="269.33" y="1186.00" font-size="9.6" textLength="34.09" lengthAdjust="spacingAndGlyphs">T:16 Q:4</text>
<text x="316.10" y="1174.00" font-size="9.6" textLength="38.25" lengthAdjust="spacingAndGlyphs">Read Rnd</text>
<text x="318.18" y="1186.00" font-size="9.6" textLength="34.09" lengthAdjust="spacingAndGlyphs">T:16 Q:8</text>
<text x="364.95" y="1174.00" font-size="9.6" textLength="38.25" lengthAdjust="spacingAndGlyphs">Read Rnd</text>
<text x="364.52" y="1186.00" font-size="9.6" textLength="39.11" lengthAdjust="spacingAndGlyphs">T:16 Q:16</text>
<text x="156.25" y="1055.60" font-size="16.9" font-weight="bold" textLength="240.50" lengthAdjust="spacingAndGlyphs">SQLIO Average Latencies - 64KB</text>
<text x="241.75" y="1077.80" font-size="16.9" font-weight="bold" textLength="69.50" lengthAdjust="spacingAndGlyphs">Blocksize</text>
<rect x="425.20" y="1121.10" width="5.8" height="5.8" fill="#4f81bd"/>
<text x="433.50" y="1127.20" font-size="9.6" textLength="18.21" lengthAdjust="spacingAndGlyphs">Intel</text>
<rect x="425.20" y="1139.70" width="5.8" height="5.8" fill="#c0504d"/>
<text x="433.50" y="1145.80" font-size="9.6" textLength="29.42" lengthAdjust="spacingAndGlyphs">Emulex</text>
<rect x="425.20" y="1158.30" width="5.8" height="5.8" fill="#9bbb59"/>
<text x="433.50" y="1164.40" font-size="9.6" textLength="27.16" lengthAdjust="spacingAndGlyphs">QLogic</text>
<line x1="505.40" y1="1153.80" x2="509.40" y2="1153.80" stroke="#a4a4a4" stroke-width="1"/>
<text x="494.98" y="1156.70" font-size="9.6" textLength="5.22" lengthAdjust="spacingAndGlyphs">0</text>
<line x1="509.40" y1="1142.14" x2="802.50" y2="1142.14" stroke="#c8c8c8" stroke-width="1" stroke-dasharray="2 1"/>
<line x1="505.40" y1="1142.14" x2="509.40" y2="1142.14" stroke="#a4a4a4" stroke-width="1"/>
<text x="484.54" y="1145.04" font-size="9.6" textLength="15.66" lengthAdjust="spacingAndGlyphs">100</text>
<line x1="509.40" y1="1130.48" x2="802.50" y2="1130.48" stroke="#c8c8c8" stroke-width="1" stroke-dasharray="2 1"/>
<line x1="505.40" y1="1130.48" x2="509.40" y2="1130.48" stroke="#a4a4a4" stroke-width="1"/>
<text x="484.54" y="1133.38" font-size="9.6" textLength="15.66" lengthAdjust="spacingAndGlyphs">200</text>
<line x1="509.40" y1="1118.82" x2="802.50" y2="1118.82" stroke="#c8c8c8" stroke-width="1" stroke-dasharray="2 1"/>
<line x1="505.40" y1="1118.82" x2="509.40" y2="1118.82" stroke="#a4a4a4" stroke-width="1"/>
<text x="484.54" y="1121.72" font-size="9.6" textLength="15.66" lengthAdjust="spacingAndGlyphs">300</text>
<line x1="509.40" y1="1107.16" x2="802.50" y2="1107.16" stroke="#c8c8c8" stroke-width="1" stroke-dasharray="2 1"/>
<line x1="505.40" y1="1107.16" x2="509.40" y2="1107.16" stroke="#a4a4a4" stroke-width="1"/>
<text x="484.54" y="1110.06" font-size="9.6" textLength="15.66" lengthAdjust="spacingAndGlyphs">400</text>
<line x1="509.40" y1="1095.50" x2="802.50" y2="1095.50" stroke="#c8c8c8" stroke-width="1" stroke-dasharray="2 1"/>
<line x1="505.40" y1="1095.50" x2="509.40" y2="1095.50" stroke="#a4a4a4" stroke-width="1"/>
<text x="484.54" y="1098.40" font-size="9.6" textLength="15.66" lengthAdjust="spacingAndGlyphs">500</text>
<rect x="517.36" y="1141.53" width="10.72" height="12.27" fill="#4f81bd"/>
<rect x="528.09" y="1141.53" width="10.72" height="12.27" fill="#c0504d"/>
<rect x="538.81" y="1140.30" width="10.72" height="13.50" fill="#9bbb59"/>
<rect x="566.21" y="1128.03" width="10.72" height="25.77" fill="#4f81bd"/>
<rect x="576.94" y="1128.03" width="10.72" height="25.77" fill="#c0504d"/>
<rect x="587.66" y="1128.03" width="10.72" height="25.77" fill="#9bbb59"/>
<rect x="615.06" y="1102.86" width="10.72" height="50.94" fill="#4f81bd"/>
<rect x="625.79" y="1102.86" width="10.72" height="50.94" fill="#c0504d"/>
<rect x="636.51" y="1103.48" width="10.72" height="50.32" fill="#9bbb59"/>
<rect x="663.91" y="1140.30" width="10.72" height="13.50" fill="#4f81bd"/>
<rect x="674.64" y="1140.30" width="10.72" height="13.50" fill="#c0504d"/>
<rect x="685.36" y="1140.30" width="10.72" height="13.50" fill="#9bbb59"/>
<rect x="712.76" y="1126.80" width="10.72" height="27.00" fill="#4f81bd"/>
<rect x="723.49" y="1127.41" width="10.72" height="26.39" fill="#c0504d"/>
<rect x="734.21" y="1126.80" width="10.72" height="27.00" fill="#9bbb59"/>
<rect x="761.61" y="1100.41" width="10.72" height="53.39" fill="#4f81bd"/>
<rect x="772.34" y="1100.41" width="10.72" height="53.39" fill="#c0504d"/>
<rect x="783.06" y="1100.41" width="10.72" height="53.39" fill="#9bbb59"/>
<line x1="509.40" y1="1095.50" x2="509.40" y2="1153.80" stroke="#a4a4a4" stroke-width="1"/>
<line x1="509.40" y1="1153.80" x2="802.50" y2="1153.80" stroke="#a4a4a4" stroke-width="1"/>
<line x1="509.40" y1="1153.80" x2="509.40" y2="1157.30" stroke="#a4a4a4" stroke-width="1"/>
<line x1="558.25" y1="1153.80" x2="558.25" y2="1157.30" stroke="#a4a4a4" stroke-width="1"/>
<line x1="607.10" y1="1153.80" x2="607.10" y2="1157.30" stroke="#a4a4a4" stroke-width="1"/>
<line x1="655.95" y1="1153.80" x2="655.95" y2="1157.30" stroke="#a4a4a4" stroke-width="1"/>
<line x1="704.80" y1="1153.80" x2="704.80" y2="1157.30" stroke="#a4a4a4" stroke-width="1"/>
<line x1="753.65" y1="1153.80" x2="753.65" y2="1157.30" stroke="#a4a4a4" stroke-width="1"/>
<line x1="802.50" y1="1153.80" x2="802.50" y2="1157.30" stroke="#a4a4a4" stroke-width="1"/>
<text x="513.98" y="1174.00" font-size="9.6" textLength="39.69" lengthAdjust="spacingAndGlyphs">Write Seq</text>
<text x="516.78" y="1186.00" font-size="9.6" textLength="34.09" lengthAdjust="spacingAndGlyphs">T:16 Q:4</text>
<text x="562.83" y="1174.00" font-size="9.6" textLength="39.69" lengthAdjust="spacingAndGlyphs">Write Seq</text>
<text x="565.63" y="1186.00" font-size="9.6" textLength="34.09" lengthAdjust="spacingAndGlyphs">T:16 Q:8</text>
<text x="611.68" y="1174.00" font-size="9.6" textLength="39.69" lengthAdjust="spacingAndGlyphs">Write Seq</text>
<text x="611.97" y="1186.00" font-size="9.6" textLength="39.11" lengthAdjust="spacingAndGlyphs">T:16 Q:16</text>
<text x="659.98" y="1174.00" font-size="9.6" textLength="40.79" lengthAdjust="spacingAndGlyphs">Write Rnd</text>
<text x="663.33" y="1186.00" font-size="9.6" textLength="34.09" lengthAdjust="spacingAndGlyphs">T:16 Q:4</text>
<text x="708.83" y="1174.00" font-size="9.6" textLength="40.79" lengthAdjust="spacingAndGlyphs">Write Rnd</text>
<text x="712.18" y="1186.00" font-size="9.6" textLength="34.09" lengthAdjust="spacingAndGlyphs">T:16 Q:8</text>
<text x="757.68" y="1174.00" font-size="9.6" textLength="40.79" lengthAdjust="spacingAndGlyphs">Write Rnd</text>
<text x="758.52" y="1186.00" font-size="9.6" textLength="39.11" lengthAdjust="spacingAndGlyphs">T:16 Q:16</text>
<text x="550.25" y="1055.60" font-size="16.9" font-weight="bold" textLength="240.50" lengthAdjust="spacingAndGlyphs">SQLIO Average Latencies - 64KB</text>
<text x="635.75" y="1077.80" font-size="16.9" font-weight="bold" textLength="69.50" lengthAdjust="spacingAndGlyphs">Blocksize</text>
<rect x="819.20" y="1121.10" width="5.8" height="5.8" fill="#4f81bd"/>
<text x="827.50" y="1127.20" font-size="9.6" textLength="18.21" lengthAdjust="spacingAndGlyphs">Intel</text>
<rect x="819.20" y="1139.70" width="5.8" height="5.8" fill="#c0504d"/>
<text x="827.50" y="1145.80" font-size="9.6" textLength="29.42" lengthAdjust="spacingAndGlyphs">Emulex</text>
<rect x="819.20" y="1158.30" width="5.8" height="5.8" fill="#9bbb59"/>
<text x="827.50" y="1164.40" font-size="9.6" textLength="27.16" lengthAdjust="spacingAndGlyphs">QLogic</text>
</svg>
</body></html>
